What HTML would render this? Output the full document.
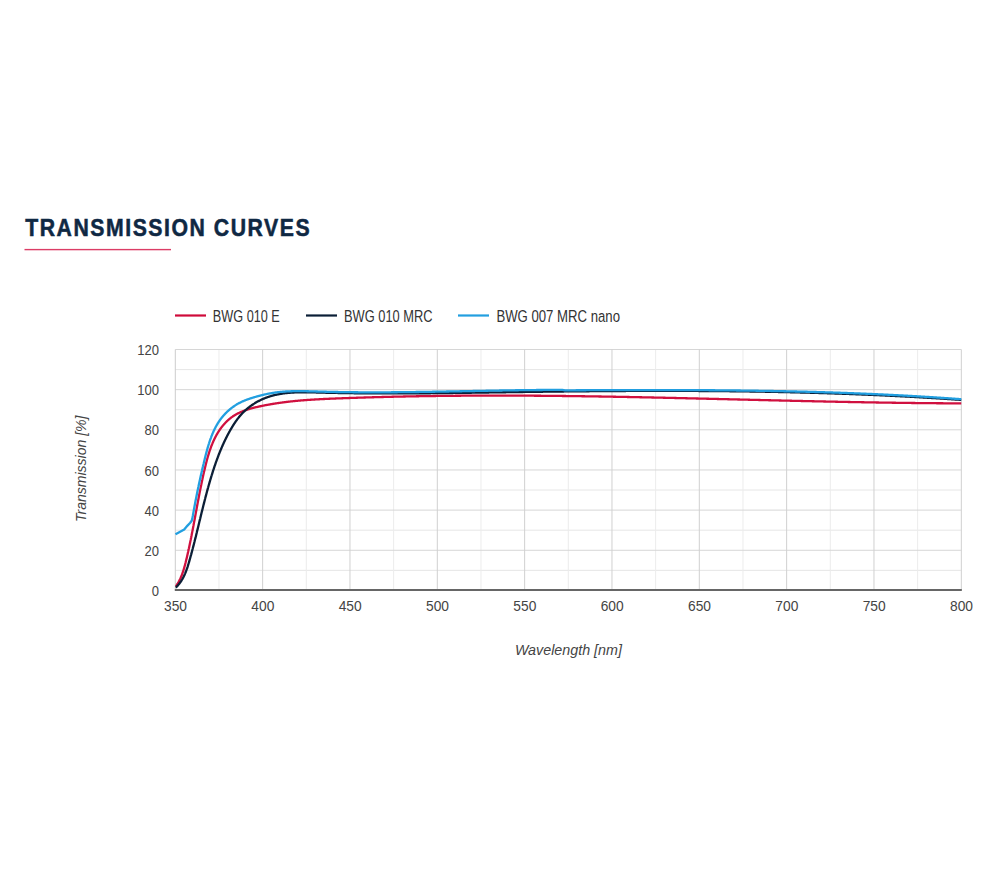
<!DOCTYPE html>
<html><head><meta charset="utf-8"><style>
html,body{margin:0;padding:0;background:#fff;width:1000px;height:875px;overflow:hidden}
svg{position:absolute;left:0;top:0}
text{font-family:"Liberation Sans",sans-serif}
</style></head><body>
<svg width="1000" height="875" viewBox="0 0 1000 875">
<text transform="translate(25.2,235.8) scale(0.87,1)" x="0" y="0" font-size="24.4" font-weight="bold" fill="#0f2843" stroke="#0f2843" stroke-width="0.55" textLength="326.9" lengthAdjust="spacing">TRANSMISSION CURVES</text>
<rect x="24.5" y="248.9" width="146.5" height="1.4" fill="#dc3d66"/>
<g font-size="16.3" fill="#333">
<line x1="175" y1="315.5" x2="206" y2="315.5" stroke="#cf0a3a" stroke-width="2.2"/>
<text x="212.8" y="322.2" textLength="67" lengthAdjust="spacingAndGlyphs">BWG 010 E</text>
<line x1="306" y1="315.5" x2="337" y2="315.5" stroke="#0b1e36" stroke-width="2.2"/>
<text x="344" y="322.2" textLength="88.5" lengthAdjust="spacingAndGlyphs">BWG 010 MRC</text>
<line x1="458" y1="315.5" x2="489" y2="315.5" stroke="#229fe0" stroke-width="2.2"/>
<text x="496.4" y="322.2" textLength="123.6" lengthAdjust="spacingAndGlyphs">BWG 007 MRC nano</text>
</g>
<line x1="175.30" y1="570.35" x2="961.32" y2="570.35" stroke="#e6e6e6" stroke-width="1"/>
<line x1="175.30" y1="530.20" x2="961.32" y2="530.20" stroke="#e6e6e6" stroke-width="1"/>
<line x1="175.30" y1="490.04" x2="961.32" y2="490.04" stroke="#e6e6e6" stroke-width="1"/>
<line x1="175.30" y1="449.89" x2="961.32" y2="449.89" stroke="#e6e6e6" stroke-width="1"/>
<line x1="175.30" y1="409.73" x2="961.32" y2="409.73" stroke="#e6e6e6" stroke-width="1"/>
<line x1="175.30" y1="369.58" x2="961.32" y2="369.58" stroke="#e6e6e6" stroke-width="1"/>
<line x1="218.97" y1="349.50" x2="218.97" y2="590.43" stroke="#ececec" stroke-width="1"/>
<line x1="306.30" y1="349.50" x2="306.30" y2="590.43" stroke="#ececec" stroke-width="1"/>
<line x1="393.64" y1="349.50" x2="393.64" y2="590.43" stroke="#ececec" stroke-width="1"/>
<line x1="480.97" y1="349.50" x2="480.97" y2="590.43" stroke="#ececec" stroke-width="1"/>
<line x1="568.31" y1="349.50" x2="568.31" y2="590.43" stroke="#ececec" stroke-width="1"/>
<line x1="655.64" y1="349.50" x2="655.64" y2="590.43" stroke="#ececec" stroke-width="1"/>
<line x1="742.98" y1="349.50" x2="742.98" y2="590.43" stroke="#ececec" stroke-width="1"/>
<line x1="830.31" y1="349.50" x2="830.31" y2="590.43" stroke="#ececec" stroke-width="1"/>
<line x1="917.65" y1="349.50" x2="917.65" y2="590.43" stroke="#ececec" stroke-width="1"/>
<line x1="175.30" y1="550.28" x2="961.32" y2="550.28" stroke="#d6d6d6" stroke-width="1"/>
<line x1="175.30" y1="510.12" x2="961.32" y2="510.12" stroke="#d6d6d6" stroke-width="1"/>
<line x1="175.30" y1="469.97" x2="961.32" y2="469.97" stroke="#d6d6d6" stroke-width="1"/>
<line x1="175.30" y1="429.81" x2="961.32" y2="429.81" stroke="#d6d6d6" stroke-width="1"/>
<line x1="175.30" y1="389.66" x2="961.32" y2="389.66" stroke="#d6d6d6" stroke-width="1"/>
<line x1="175.30" y1="349.50" x2="961.32" y2="349.50" stroke="#d6d6d6" stroke-width="1"/>
<line x1="262.63" y1="349.50" x2="262.63" y2="590.43" stroke="#d0d0d0" stroke-width="1"/>
<line x1="349.97" y1="349.50" x2="349.97" y2="590.43" stroke="#d0d0d0" stroke-width="1"/>
<line x1="437.31" y1="349.50" x2="437.31" y2="590.43" stroke="#d0d0d0" stroke-width="1"/>
<line x1="524.64" y1="349.50" x2="524.64" y2="590.43" stroke="#d0d0d0" stroke-width="1"/>
<line x1="611.97" y1="349.50" x2="611.97" y2="590.43" stroke="#d0d0d0" stroke-width="1"/>
<line x1="699.31" y1="349.50" x2="699.31" y2="590.43" stroke="#d0d0d0" stroke-width="1"/>
<line x1="786.64" y1="349.50" x2="786.64" y2="590.43" stroke="#d0d0d0" stroke-width="1"/>
<line x1="873.98" y1="349.50" x2="873.98" y2="590.43" stroke="#d0d0d0" stroke-width="1"/>
<line x1="961.32" y1="349.50" x2="961.32" y2="590.43" stroke="#d0d0d0" stroke-width="1"/>
<line x1="175.30" y1="349.50" x2="175.30" y2="590.43" stroke="#cccccc" stroke-width="1"/>
<line x1="174.80" y1="590" x2="961.82" y2="590" stroke="#666" stroke-width="2"/>
<defs><clipPath id="pc"><rect x="175" y="340" width="786.5" height="250"/></clipPath></defs>
<g fill="none" stroke-linejoin="round" stroke-linecap="butt" clip-path="url(#pc)">
<path d="M175.76,586.48L176.05,586.06L176.34,585.65L176.62,585.23L176.90,584.81L177.17,584.38L177.43,583.96L177.69,583.53L177.95,583.10L178.20,582.66L178.45,582.23L178.69,581.79L178.93,581.35L179.16,580.91L179.39,580.46L179.61,580.02L179.83,579.57L180.04,579.12L180.26,578.67L180.46,578.22L180.67,577.76L180.86,577.30L181.06,576.84L181.25,576.38L181.44,575.92L181.62,575.46L181.81,574.99L181.98,574.53L182.16,574.06L182.33,573.59L182.50,573.12L182.66,572.65L182.83,572.17L182.99,571.70L183.14,571.23L183.30,570.75L183.45,570.27L183.60,569.79L183.75,569.31L183.89,568.83L184.04,568.35L184.18,567.87L184.31,567.39L184.45,566.91L184.59,566.42L184.72,565.94L184.85,565.45L184.98,564.97L185.11,564.48L185.23,564.00L185.36,563.51L185.48,563.02L185.61,562.54L185.73,562.05L185.85,561.56L185.97,561.07L186.09,560.59L186.21,560.10L186.33,559.61L186.44,559.12L186.56,558.64L186.68,558.15L186.79,557.66L186.91,557.17L187.02,556.69L187.13,556.20L187.25,555.71L187.36,555.22L187.47,554.74L187.58,554.25L187.70,553.76L187.81,553.28L187.92,552.79L188.03,552.30L188.14,551.82L188.24,551.33L188.35,550.84L188.46,550.35L188.57,549.87L188.67,549.38L188.78,548.89L188.89,548.41L188.99,547.92L189.10,547.43L189.20,546.95L189.31,546.46L189.41,545.97L189.51,545.49L189.62,545.00L189.72,544.51L189.82,544.03L189.92,543.54L190.03,543.05L190.13,542.57L190.23,542.08L190.33,541.59L190.43,541.11L190.53,540.62L190.63,540.13L190.73,539.65L190.82,539.16L190.92,538.68L191.02,538.19L191.12,537.70L191.22,537.22L191.31,536.73L191.41,536.24L191.51,535.76L191.60,535.27L191.70,534.78L191.79,534.30L191.89,533.81L191.98,533.32L192.08,532.84L192.17,532.35L192.27,531.86L192.36,531.38L192.46,530.89L192.55,530.41L192.64,529.92L192.74,529.43L192.83,528.95L192.92,528.46L193.02,527.97L193.11,527.49L193.20,527.00L193.29,526.51L193.39,526.03L193.48,525.54L193.57,525.05L193.66,524.57L193.75,524.08L193.85,523.59L193.94,523.11L194.03,522.62L194.12,522.13L194.21,521.64L194.30,521.16L194.39,520.67L194.48,520.18L194.57,519.70L194.66,519.21L194.75,518.72L194.84,518.23L194.93,517.75L195.03,517.26L195.12,516.77L195.21,516.29L195.30,515.80L195.39,515.31L195.48,514.82L195.57,514.34L195.66,513.85L195.75,513.36L195.84,512.87L195.93,512.39L196.02,511.90L196.11,511.41L196.20,510.92L196.29,510.43L196.38,509.95L196.47,509.46L196.56,508.97L196.65,508.48L196.74,507.99L196.83,507.50L196.92,507.02L197.01,506.53L197.10,506.04L197.20,505.55L197.29,505.06L197.38,504.57L197.47,504.08L197.56,503.60L197.65,503.11L197.74,502.62L197.84,502.13L197.93,501.64L198.02,501.15L198.11,500.66L198.21,500.17L198.30,499.68L198.39,499.19L198.48,498.70L198.58,498.21L198.67,497.72L198.76,497.23L198.86,496.74L198.95,496.25L199.05,495.76L199.14,495.27L199.24,494.78L199.33,494.29L199.43,493.80L199.52,493.31L199.62,492.82L199.72,492.33L199.81,491.84L199.91,491.35L200.01,490.86L200.10,490.37L200.20,489.88L200.30,489.38L200.40,488.89L200.50,488.40L200.59,487.91L200.69,487.42L200.79,486.93L200.89,486.43L200.99,485.94L201.09,485.45L201.20,484.96L201.30,484.46L201.40,483.97L201.50,483.48L201.60,482.99L201.71,482.49L201.81,482.00L201.91,481.51L202.02,481.01L202.12,480.52L202.23,480.03L202.33,479.53L202.44,479.04L202.54,478.55L202.65,478.05L202.76,477.56L202.87,477.06L202.97,476.57L203.08,476.07L203.19,475.58L203.30,475.09L203.41,474.59L203.52,474.10L203.63,473.60L203.75,473.11L203.86,472.61L203.97,472.11L204.08,471.62L204.20,471.12L204.31,470.63L204.43,470.13L204.54,469.63L204.66,469.14L204.77,468.64L204.89,468.14L205.01,467.65L205.13,467.15L205.25,466.66L205.37,466.16L205.49,465.66L205.61,465.17L205.73,464.67L205.86,464.17L205.98,463.68L206.11,463.18L206.23,462.69L206.36,462.19L206.49,461.70L206.62,461.20L206.75,460.71L206.88,460.21L207.02,459.72L207.15,459.23L207.28,458.73L207.42,458.24L207.56,457.75L207.70,457.26L207.84,456.77L207.98,456.28L208.13,455.79L208.27,455.30L208.42,454.81L208.57,454.33L208.72,453.84L208.87,453.35L209.02,452.87L209.17,452.38L209.33,451.90L209.49,451.42L209.65,450.94L209.81,450.46L209.97,449.98L210.14,449.50L210.30,449.02L210.47,448.54L210.64,448.07L210.82,447.59L210.99,447.12L211.17,446.65L211.35,446.18L211.53,445.71L211.71,445.24L211.90,444.77L212.08,444.30L212.27,443.84L212.47,443.38L212.66,442.91L212.86,442.45L213.06,442.00L213.26,441.54L213.46,441.08L213.67,440.63L213.88,440.17L214.09,439.72L214.30,439.27L214.52,438.82L214.74,438.38L214.96,437.93L215.18,437.49L215.41,437.05L215.64,436.61L215.87,436.17L216.10,435.73L216.34,435.30L216.58,434.87L216.83,434.44L217.07,434.01L217.32,433.58L217.57,433.16L217.83,432.73L218.09,432.31L218.35,431.89L218.62,431.48L218.88,431.06L219.15,430.65L219.43,430.24L219.71,429.83L219.99,429.43L220.27,429.02L220.56,428.62L220.85,428.22L221.14,427.83L221.44,427.43L221.74,427.04L222.04,426.65L222.35,426.27L222.66,425.89L222.97,425.51L223.29,425.13L223.61,424.75L223.93,424.38L224.26,424.02L224.59,423.65L224.92,423.29L225.26,422.93L225.59,422.58L225.94,422.22L226.28,421.88L226.63,421.53L226.98,421.19L227.34,420.85L227.70,420.52L228.06,420.19L228.42,419.87L228.79,419.54L229.16,419.23L229.53,418.91L229.91,418.60L230.29,418.30L230.67,418.00L231.06,417.70L231.45,417.41L231.84,417.12L232.24,416.84L232.63,416.56L233.04,416.29L233.44,416.02L233.85,415.76L234.26,415.50L234.67,415.24L235.09,414.99L235.51,414.74L235.93,414.50L236.36,414.26L236.78,414.03L237.21,413.80L237.64,413.57L238.08,413.35L238.52,413.13L238.96,412.92L239.40,412.71L239.84,412.50L240.29,412.30L240.74,412.10L241.19,411.90L241.64,411.71L242.10,411.52L242.55,411.34L243.01,411.15L243.47,410.98L243.93,410.80L244.40,410.63L244.86,410.46L245.33,410.29L245.80,410.13L246.27,409.96L246.74,409.81L247.22,409.65L247.69,409.50L248.17,409.35L248.65,409.20L249.13,409.05L249.61,408.91L250.09,408.77L250.57,408.63L251.05,408.50L251.54,408.36L252.02,408.23L252.51,408.10L253.00,407.97L253.49,407.85L253.97,407.72L254.46,407.60L254.95,407.48L255.44,407.36L255.94,407.24L256.43,407.13L256.92,407.01L257.41,406.90L257.90,406.79L258.40,406.68L258.89,406.57L259.38,406.46L259.88,406.35L260.37,406.25L260.87,406.14L261.36,406.04L261.85,405.94L262.35,405.83L262.84,405.73L263.34,405.63L263.83,405.53L264.32,405.44L264.82,405.34L265.31,405.24L265.81,405.15L266.30,405.05L266.80,404.96L267.29,404.87L267.79,404.78L268.28,404.69L268.77,404.60L269.27,404.51L269.76,404.42L270.26,404.33L270.75,404.25L271.25,404.16L271.74,404.08L272.24,404.00L272.74,403.91L273.23,403.83L273.73,403.75L274.22,403.67L274.72,403.59L275.21,403.51L275.71,403.44L276.20,403.36L276.70,403.29L277.19,403.21L277.69,403.14L278.19,403.06L278.68,402.99L279.18,402.92L279.67,402.85L280.17,402.78L280.67,402.71L281.16,402.64L281.66,402.57L282.16,402.51L282.65,402.44L283.15,402.38L283.64,402.31L284.14,402.25L284.64,402.18L285.13,402.12L285.63,402.06L286.13,402.00L286.62,401.94L287.12,401.88L287.62,401.82L288.11,401.76L288.61,401.70L289.11,401.65L289.60,401.59L290.10,401.54L290.60,401.48L291.10,401.43L291.59,401.37L292.09,401.32L292.59,401.27L293.08,401.22L293.58,401.16L294.08,401.11L294.58,401.06L295.07,401.02L295.57,400.97L296.07,400.92L296.57,400.87L297.06,400.82L297.56,400.78L298.06,400.73L298.56,400.69L299.05,400.64L299.55,400.60L300.05,400.56L300.55,400.51L301.05,400.47L301.54,400.43L302.04,400.39L302.54,400.35L303.04,400.31L303.54,400.27L304.03,400.23L304.53,400.19L305.03,400.15L305.53,400.11L306.03,400.08L306.52,400.04L307.02,400.00L307.52,399.97L308.02,399.93L308.52,399.90L309.02,399.86L309.51,399.83L310.01,399.79L310.51,399.76L311.01,399.73L311.51,399.69L312.01,399.66L312.51,399.63L313.00,399.60L313.50,399.57L314.00,399.54L314.50,399.51L315.00,399.48L315.50,399.45L316.00,399.42L316.49,399.39L316.99,399.36L317.49,399.34L317.99,399.31L318.49,399.28L318.99,399.25L319.49,399.23L319.99,399.20L320.48,399.17L320.98,399.15L321.48,399.12L321.98,399.10L322.48,399.07L322.98,399.05L323.48,399.02L323.98,399.00L324.48,398.98L324.98,398.95L325.47,398.93L325.97,398.91L326.47,398.88L326.97,398.86L327.47,398.84L327.97,398.82L328.47,398.80L328.97,398.77L329.47,398.75L329.97,398.73L330.47,398.71L330.96,398.69L331.46,398.67L331.96,398.65L332.46,398.63L332.96,398.61L333.46,398.59L333.96,398.57L334.46,398.55L334.96,398.53L335.46,398.51L335.96,398.49L336.46,398.47L336.96,398.45L337.45,398.43L337.95,398.41L338.45,398.39L338.95,398.37L339.45,398.36L339.95,398.34L340.45,398.32L340.95,398.30L341.45,398.28L341.95,398.26L342.45,398.24L342.95,398.23L343.45,398.21L343.95,398.19L344.45,398.17L344.94,398.15L345.44,398.14L345.94,398.12L346.44,398.10L346.94,398.08L347.44,398.07L347.94,398.05L348.44,398.03L348.94,398.01L349.44,398.00L349.94,397.98L350.44,397.96L350.94,397.94L351.44,397.93L351.94,397.91L352.43,397.89L352.93,397.88L353.43,397.86L353.93,397.84L354.43,397.83L354.93,397.81L355.43,397.79L355.93,397.78L356.43,397.76L356.93,397.74L357.43,397.73L357.93,397.71L358.43,397.70L358.93,397.68L359.43,397.66L359.92,397.65L360.42,397.63L360.92,397.62L361.42,397.60L361.92,397.59L362.42,397.57L362.92,397.55L363.42,397.54L363.92,397.52L364.42,397.51L364.92,397.49L365.42,397.48L365.92,397.46L366.42,397.45L366.92,397.43L367.42,397.42L367.92,397.40L368.41,397.39L368.91,397.37L369.41,397.36L369.91,397.34L370.41,397.33L370.91,397.32L371.41,397.30L371.91,397.29L372.41,397.27L372.91,397.26L373.41,397.24L373.91,397.23L374.41,397.22L374.91,397.20L375.41,397.19L375.91,397.18L376.41,397.16L376.91,397.15L377.40,397.13L377.90,397.12L378.40,397.11L378.90,397.09L379.40,397.08L379.90,397.07L380.40,397.05L380.90,397.04L381.40,397.03L381.90,397.02L382.40,397.00L382.90,396.99L383.40,396.98L383.90,396.96L384.40,396.95L384.90,396.94L385.40,396.93L385.90,396.91L386.40,396.90L386.90,396.89L387.39,396.88L387.89,396.86L388.39,396.85L388.89,396.84L389.39,396.83L389.89,396.82L390.39,396.80L390.89,396.79L391.39,396.78L391.89,396.77L392.39,396.76L392.89,396.75L393.39,396.73L393.89,396.72L394.39,396.71L394.89,396.70L395.39,396.69L395.89,396.68L396.39,396.67L396.89,396.66L397.38,396.65L397.88,396.63L398.38,396.62L398.88,396.61L399.38,396.60L399.88,396.59L400.38,396.58L400.88,396.57L401.38,396.56L401.88,396.55L402.38,396.54L402.88,396.53L403.38,396.52L403.88,396.51L404.38,396.50L404.88,396.49L405.38,396.48L405.88,396.47L406.38,396.46L406.88,396.45L407.38,396.44L407.88,396.43L408.38,396.42L408.87,396.41L409.37,396.40L409.87,396.39L410.37,396.38L410.87,396.37L411.37,396.36L411.87,396.35L412.37,396.34L412.87,396.33L413.37,396.33L413.87,396.32L414.37,396.31L414.87,396.30L415.37,396.29L415.87,396.28L416.37,396.27L416.87,396.26L417.37,396.26L417.87,396.25L418.37,396.24L418.87,396.23L419.37,396.22L419.87,396.21L420.37,396.20L420.86,396.20L421.36,396.19L421.86,396.18L422.36,396.17L422.86,396.16L423.36,396.16L423.86,396.15L424.36,396.14L424.86,396.13L425.36,396.13L425.86,396.12L426.36,396.11L426.86,396.10L427.36,396.10L427.86,396.09L428.36,396.08L428.86,396.07L429.36,396.07L429.86,396.06L430.36,396.05L430.86,396.05L431.36,396.04L431.86,396.03L432.36,396.03L432.86,396.02L433.36,396.01L433.86,396.00L434.35,396.00L434.85,395.99L435.35,395.99L435.85,395.98L436.35,395.97L436.85,395.97L437.35,395.96L437.85,395.95L438.35,395.95L438.85,395.94L439.35,395.94L439.85,395.93L440.35,395.92L440.85,395.92L441.35,395.91L441.85,395.91L442.35,395.90L442.85,395.89L443.35,395.89L443.85,395.88L444.35,395.88L444.85,395.87L445.35,395.87L445.85,395.86L446.35,395.86L446.85,395.85L447.35,395.85L447.85,395.84L448.35,395.84L448.84,395.83L449.34,395.83L449.84,395.82L450.34,395.82L450.84,395.81L451.34,395.81L451.84,395.80L452.34,395.80L452.84,395.79L453.34,395.79L453.84,395.78L454.34,395.78L454.84,395.78L455.34,395.77L455.84,395.77L456.34,395.76L456.84,395.76L457.34,395.76L457.84,395.75L458.34,395.75L458.84,395.74L459.34,395.74L459.84,395.74L460.34,395.73L460.84,395.73L461.34,395.72L461.84,395.72L462.34,395.72L462.84,395.71L463.34,395.71L463.84,395.71L464.33,395.70L464.83,395.70L465.33,395.70L465.83,395.69L466.33,395.69L466.83,395.69L467.33,395.69L467.83,395.68L468.33,395.68L468.83,395.68L469.33,395.67L469.83,395.67L470.33,395.67L470.83,395.67L471.33,395.66L471.83,395.66L472.33,395.66L472.83,395.66L473.33,395.65L473.83,395.65L474.33,395.65L474.83,395.65L475.33,395.64L475.83,395.64L476.33,395.64L476.83,395.64L477.33,395.64L477.83,395.63L478.33,395.63L478.83,395.63L479.33,395.63L479.83,395.63L480.33,395.63L480.83,395.62L481.32,395.62L481.82,395.62L482.32,395.62L482.82,395.62L483.32,395.62L483.82,395.62L484.32,395.61L484.82,395.61L485.32,395.61L485.82,395.61L486.32,395.61L486.82,395.61L487.32,395.61L487.82,395.61L488.32,395.61L488.82,395.60L489.32,395.60L489.82,395.60L490.32,395.60L490.82,395.60L491.32,395.60L491.82,395.60L492.32,395.60L492.82,395.60L493.32,395.60L493.82,395.60L494.32,395.60L494.82,395.60L495.32,395.60L495.82,395.60L496.32,395.60L496.82,395.60L497.32,395.60L497.82,395.60L498.32,395.60L498.82,395.60L499.31,395.60L499.81,395.60L500.31,395.60L500.81,395.60L501.31,395.60L501.81,395.60L502.31,395.60L502.81,395.60L503.31,395.60L503.81,395.60L504.31,395.60L504.81,395.60L505.31,395.60L505.81,395.61L506.31,395.61L506.81,395.61L507.31,395.61L507.81,395.61L508.31,395.61L508.81,395.61L509.31,395.61L509.81,395.61L510.31,395.61L510.81,395.62L511.31,395.62L511.81,395.62L512.31,395.62L512.81,395.62L513.31,395.62L513.81,395.62L514.31,395.63L514.81,395.63L515.31,395.63L515.81,395.63L516.31,395.63L516.81,395.64L517.31,395.64L517.80,395.64L518.30,395.64L518.80,395.64L519.30,395.64L519.80,395.65L520.30,395.65L520.80,395.65L521.30,395.65L521.80,395.66L522.30,395.66L522.80,395.66L523.30,395.66L523.80,395.67L524.30,395.67L524.80,395.67L525.30,395.67L525.80,395.68L526.30,395.68L526.80,395.68L527.30,395.68L527.80,395.69L528.30,395.69L528.80,395.69L529.30,395.69L529.80,395.70L530.30,395.70L530.80,395.70L531.30,395.71L531.80,395.71L532.30,395.71L532.80,395.72L533.30,395.72L533.80,395.72L534.30,395.73L534.80,395.73L535.30,395.73L535.79,395.74L536.29,395.74L536.79,395.74L537.29,395.75L537.79,395.75L538.29,395.75L538.79,395.76L539.29,395.76L539.79,395.77L540.29,395.77L540.79,395.77L541.29,395.78L541.79,395.78L542.29,395.79L542.79,395.79L543.29,395.79L543.79,395.80L544.29,395.80L544.79,395.81L545.29,395.81L545.79,395.82L546.29,395.82L546.79,395.82L547.29,395.83L547.79,395.83L548.29,395.84L548.79,395.84L549.29,395.85L549.79,395.85L550.29,395.86L550.79,395.86L551.29,395.87L551.79,395.87L552.29,395.88L552.79,395.88L553.28,395.88L553.78,395.89L554.28,395.89L554.78,395.90L555.28,395.90L555.78,395.91L556.28,395.92L556.78,395.92L557.28,395.93L557.78,395.93L558.28,395.94L558.78,395.94L559.28,395.95L559.78,395.95L560.28,395.96L560.78,395.96L561.28,395.97L561.78,395.97L562.28,395.98L562.78,395.99L563.28,395.99L563.78,396.00L564.28,396.00L564.78,396.01L565.28,396.01L565.78,396.02L566.28,396.03L566.78,396.03L567.28,396.04L567.78,396.04L568.28,396.05L568.78,396.06L569.28,396.06L569.77,396.07L570.27,396.07L570.77,396.08L571.27,396.09L571.77,396.09L572.27,396.10L572.77,396.11L573.27,396.11L573.77,396.12L574.27,396.12L574.77,396.13L575.27,396.14L575.77,396.14L576.27,396.15L576.77,396.16L577.27,396.16L577.77,396.17L578.27,396.18L578.77,396.18L579.27,396.19L579.77,396.20L580.27,396.20L580.77,396.21L581.27,396.22L581.77,396.23L582.27,396.23L582.77,396.24L583.27,396.25L583.77,396.25L584.27,396.26L584.77,396.27L585.27,396.28L585.76,396.28L586.26,396.29L586.76,396.30L587.26,396.30L587.76,396.31L588.26,396.32L588.76,396.33L589.26,396.33L589.76,396.34L590.26,396.35L590.76,396.36L591.26,396.36L591.76,396.37L592.26,396.38L592.76,396.39L593.26,396.39L593.76,396.40L594.26,396.41L594.76,396.42L595.26,396.43L595.76,396.43L596.26,396.44L596.76,396.45L597.26,396.46L597.76,396.47L598.26,396.47L598.76,396.48L599.26,396.49L599.76,396.50L600.26,396.51L600.76,396.51L601.25,396.52L601.75,396.53L602.25,396.54L602.75,396.55L603.25,396.55L603.75,396.56L604.25,396.57L604.75,396.58L605.25,396.59L605.75,396.60L606.25,396.61L606.75,396.61L607.25,396.62L607.75,396.63L608.25,396.64L608.75,396.65L609.25,396.66L609.75,396.67L610.25,396.67L610.75,396.68L611.25,396.69L611.75,396.70L612.25,396.71L612.75,396.72L613.25,396.73L613.75,396.74L614.25,396.74L614.75,396.75L615.25,396.76L615.75,396.77L616.24,396.78L616.74,396.79L617.24,396.80L617.74,396.81L618.24,396.82L618.74,396.83L619.24,396.83L619.74,396.84L620.24,396.85L620.74,396.86L621.24,396.87L621.74,396.88L622.24,396.89L622.74,396.90L623.24,396.91L623.74,396.92L624.24,396.93L624.74,396.94L625.24,396.95L625.74,396.96L626.24,396.96L626.74,396.97L627.24,396.98L627.74,396.99L628.24,397.00L628.74,397.01L629.24,397.02L629.74,397.03L630.24,397.04L630.73,397.05L631.23,397.06L631.73,397.07L632.23,397.08L632.73,397.09L633.23,397.10L633.73,397.11L634.23,397.12L634.73,397.13L635.23,397.14L635.73,397.15L636.23,397.16L636.73,397.17L637.23,397.18L637.73,397.19L638.23,397.20L638.73,397.21L639.23,397.22L639.73,397.23L640.23,397.24L640.73,397.25L641.23,397.26L641.73,397.27L642.23,397.28L642.73,397.29L643.23,397.30L643.73,397.31L644.23,397.32L644.72,397.33L645.22,397.34L645.72,397.35L646.22,397.36L646.72,397.37L647.22,397.38L647.72,397.39L648.22,397.40L648.72,397.41L649.22,397.42L649.72,397.44L650.22,397.45L650.72,397.46L651.22,397.47L651.72,397.48L652.22,397.49L652.72,397.50L653.22,397.51L653.72,397.52L654.22,397.53L654.72,397.54L655.22,397.55L655.72,397.56L656.22,397.57L656.72,397.58L657.22,397.59L657.72,397.61L658.22,397.62L658.72,397.63L659.21,397.64L659.71,397.65L660.21,397.66L660.71,397.67L661.21,397.68L661.71,397.69L662.21,397.70L662.71,397.71L663.21,397.73L663.71,397.74L664.21,397.75L664.71,397.76L665.21,397.77L665.71,397.78L666.21,397.79L666.71,397.80L667.21,397.81L667.71,397.82L668.21,397.84L668.71,397.85L669.21,397.86L669.71,397.87L670.21,397.88L670.71,397.89L671.21,397.90L671.71,397.91L672.21,397.92L672.70,397.94L673.20,397.95L673.70,397.96L674.20,397.97L674.70,397.98L675.20,397.99L675.70,398.00L676.20,398.01L676.70,398.03L677.20,398.04L677.70,398.05L678.20,398.06L678.70,398.07L679.20,398.08L679.70,398.09L680.20,398.11L680.70,398.12L681.20,398.13L681.70,398.14L682.20,398.15L682.70,398.16L683.20,398.17L683.70,398.19L684.20,398.20L684.70,398.21L685.20,398.22L685.70,398.23L686.20,398.24L686.69,398.26L687.19,398.27L687.69,398.28L688.19,398.29L688.69,398.30L689.19,398.31L689.69,398.33L690.19,398.34L690.69,398.35L691.19,398.36L691.69,398.37L692.19,398.38L692.69,398.40L693.19,398.41L693.69,398.42L694.19,398.43L694.69,398.44L695.19,398.45L695.69,398.47L696.19,398.48L696.69,398.49L697.19,398.50L697.69,398.51L698.19,398.52L698.69,398.54L699.19,398.55L699.69,398.56L700.18,398.57L700.68,398.58L701.18,398.60L701.68,398.61L702.18,398.62L702.68,398.63L703.18,398.64L703.68,398.66L704.18,398.67L704.68,398.68L705.18,398.69L705.68,398.70L706.18,398.71L706.68,398.73L707.18,398.74L707.68,398.75L708.18,398.76L708.68,398.77L709.18,398.79L709.68,398.80L710.18,398.81L710.68,398.82L711.18,398.83L711.68,398.85L712.18,398.86L712.68,398.87L713.18,398.88L713.67,398.89L714.17,398.91L714.67,398.92L715.17,398.93L715.67,398.94L716.17,398.95L716.67,398.97L717.17,398.98L717.67,398.99L718.17,399.00L718.67,399.01L719.17,399.03L719.67,399.04L720.17,399.05L720.67,399.06L721.17,399.08L721.67,399.09L722.17,399.10L722.67,399.11L723.17,399.12L723.67,399.14L724.17,399.15L724.67,399.16L725.17,399.17L725.67,399.18L726.17,399.20L726.66,399.21L727.16,399.22L727.66,399.23L728.16,399.24L728.66,399.26L729.16,399.27L729.66,399.28L730.16,399.29L730.66,399.31L731.16,399.32L731.66,399.33L732.16,399.34L732.66,399.35L733.16,399.37L733.66,399.38L734.16,399.39L734.66,399.40L735.16,399.41L735.66,399.43L736.16,399.44L736.66,399.45L737.16,399.46L737.66,399.48L738.16,399.49L738.66,399.50L739.16,399.51L739.66,399.52L740.15,399.54L740.65,399.55L741.15,399.56L741.65,399.57L742.15,399.58L742.65,399.60L743.15,399.61L743.65,399.62L744.15,399.63L744.65,399.65L745.15,399.66L745.65,399.67L746.15,399.68L746.65,399.69L747.15,399.71L747.65,399.72L748.15,399.73L748.65,399.74L749.15,399.75L749.65,399.77L750.15,399.78L750.65,399.79L751.15,399.80L751.65,399.82L752.15,399.83L752.65,399.84L753.14,399.85L753.64,399.86L754.14,399.88L754.64,399.89L755.14,399.90L755.64,399.91L756.14,399.92L756.64,399.94L757.14,399.95L757.64,399.96L758.14,399.97L758.64,399.98L759.14,400.00L759.64,400.01L760.14,400.02L760.64,400.03L761.14,400.05L761.64,400.06L762.14,400.07L762.64,400.08L763.14,400.09L763.64,400.11L764.14,400.12L764.64,400.13L765.14,400.14L765.64,400.15L766.14,400.17L766.63,400.18L767.13,400.19L767.63,400.20L768.13,400.21L768.63,400.23L769.13,400.24L769.63,400.25L770.13,400.26L770.63,400.27L771.13,400.29L771.63,400.30L772.13,400.31L772.63,400.32L773.13,400.33L773.63,400.34L774.13,400.36L774.63,400.37L775.13,400.38L775.63,400.39L776.13,400.40L776.63,400.42L777.13,400.43L777.63,400.44L778.13,400.45L778.63,400.46L779.13,400.48L779.63,400.49L780.12,400.50L780.62,400.51L781.12,400.52L781.62,400.53L782.12,400.55L782.62,400.56L783.12,400.57L783.62,400.58L784.12,400.59L784.62,400.60L785.12,400.62L785.62,400.63L786.12,400.64L786.62,400.65L787.12,400.66L787.62,400.67L788.12,400.69L788.62,400.70L789.12,400.71L789.62,400.72L790.12,400.73L790.62,400.74L791.12,400.76L791.62,400.77L792.12,400.78L792.62,400.79L793.11,400.80L793.61,400.81L794.11,400.83L794.61,400.84L795.11,400.85L795.61,400.86L796.11,400.87L796.61,400.88L797.11,400.89L797.61,400.91L798.11,400.92L798.61,400.93L799.11,400.94L799.61,400.95L800.11,400.96L800.61,400.97L801.11,400.98L801.61,401.00L802.11,401.01L802.61,401.02L803.11,401.03L803.61,401.04L804.11,401.05L804.61,401.06L805.11,401.08L805.61,401.09L806.11,401.10L806.60,401.11L807.10,401.12L807.60,401.13L808.10,401.14L808.60,401.15L809.10,401.16L809.60,401.18L810.10,401.19L810.60,401.20L811.10,401.21L811.60,401.22L812.10,401.23L812.60,401.24L813.10,401.25L813.60,401.26L814.10,401.27L814.60,401.29L815.10,401.30L815.60,401.31L816.10,401.32L816.60,401.33L817.10,401.34L817.60,401.35L818.10,401.36L818.60,401.37L819.10,401.38L819.60,401.39L820.09,401.41L820.59,401.42L821.09,401.43L821.59,401.44L822.09,401.45L822.59,401.46L823.09,401.47L823.59,401.48L824.09,401.49L824.59,401.50L825.09,401.51L825.59,401.52L826.09,401.53L826.59,401.54L827.09,401.55L827.59,401.56L828.09,401.58L828.59,401.59L829.09,401.60L829.59,401.61L830.09,401.62L830.59,401.63L831.09,401.64L831.59,401.65L832.09,401.66L832.59,401.67L833.09,401.68L833.59,401.69L834.08,401.70L834.58,401.71L835.08,401.72L835.58,401.73L836.08,401.74L836.58,401.75L837.08,401.76L837.58,401.77L838.08,401.78L838.58,401.79L839.08,401.80L839.58,401.81L840.08,401.82L840.58,401.83L841.08,401.84L841.58,401.85L842.08,401.86L842.58,401.87L843.08,401.88L843.58,401.89L844.08,401.90L844.58,401.91L845.08,401.92L845.58,401.93L846.08,401.94L846.58,401.95L847.08,401.96L847.58,401.97L848.07,401.98L848.57,401.99L849.07,402.00L849.57,402.01L850.07,402.02L850.57,402.03L851.07,402.04L851.57,402.04L852.07,402.05L852.57,402.06L853.07,402.07L853.57,402.08L854.07,402.09L854.57,402.10L855.07,402.11L855.57,402.12L856.07,402.13L856.57,402.14L857.07,402.15L857.57,402.16L858.07,402.17L858.57,402.18L859.07,402.18L859.57,402.19L860.07,402.20L860.57,402.21L861.07,402.22L861.57,402.23L862.06,402.24L862.56,402.25L863.06,402.26L863.56,402.27L864.06,402.27L864.56,402.28L865.06,402.29L865.56,402.30L866.06,402.31L866.56,402.32L867.06,402.33L867.56,402.34L868.06,402.34L868.56,402.35L869.06,402.36L869.56,402.37L870.06,402.38L870.56,402.39L871.06,402.40L871.56,402.40L872.06,402.41L872.56,402.42L873.06,402.43L873.56,402.44L874.06,402.45L874.56,402.45L875.06,402.46L875.56,402.47L876.05,402.48L876.55,402.49L877.05,402.49L877.55,402.50L878.05,402.51L878.55,402.52L879.05,402.53L879.55,402.54L880.05,402.54L880.55,402.55L881.05,402.56L881.55,402.57L882.05,402.57L882.55,402.58L883.05,402.59L883.55,402.60L884.05,402.61L884.55,402.61L885.05,402.62L885.55,402.63L886.05,402.64L886.55,402.64L887.05,402.65L887.55,402.66L888.05,402.67L888.55,402.67L889.05,402.68L889.55,402.69L890.05,402.70L890.55,402.70L891.04,402.71L891.54,402.72L892.04,402.73L892.54,402.73L893.04,402.74L893.54,402.75L894.04,402.75L894.54,402.76L895.04,402.77L895.54,402.77L896.04,402.78L896.54,402.79L897.04,402.80L897.54,402.80L898.04,402.81L898.54,402.82L899.04,402.82L899.54,402.83L900.04,402.84L900.54,402.84L901.04,402.85L901.54,402.86L902.04,402.86L902.54,402.87L903.04,402.88L903.54,402.88L904.04,402.89L904.54,402.90L905.04,402.90L905.54,402.91L906.03,402.91L906.53,402.92L907.03,402.93L907.53,402.93L908.03,402.94L908.53,402.94L909.03,402.95L909.53,402.96L910.03,402.96L910.53,402.97L911.03,402.97L911.53,402.98L912.03,402.99L912.53,402.99L913.03,403.00L913.53,403.00L914.03,403.01L914.53,403.02L915.03,403.02L915.53,403.03L916.03,403.03L916.53,403.04L917.03,403.04L917.53,403.05L918.03,403.05L918.53,403.06L919.03,403.06L919.53,403.07L920.03,403.08L920.53,403.08L921.03,403.09L921.52,403.09L922.02,403.10L922.52,403.10L923.02,403.11L923.52,403.11L924.02,403.12L924.52,403.12L925.02,403.13L925.52,403.13L926.02,403.14L926.52,403.14L927.02,403.14L927.52,403.15L928.02,403.15L928.52,403.16L929.02,403.16L929.52,403.17L930.02,403.17L930.52,403.18L931.02,403.18L931.52,403.19L932.02,403.19L932.52,403.19L933.02,403.20L933.52,403.20L934.02,403.21L934.52,403.21L935.02,403.22L935.52,403.22L936.02,403.22L936.52,403.23L937.02,403.23L937.51,403.23L938.01,403.24L938.51,403.24L939.01,403.25L939.51,403.25L940.01,403.25L940.51,403.26L941.01,403.26L941.51,403.26L942.01,403.27L942.51,403.27L943.01,403.27L943.51,403.28L944.01,403.28L944.51,403.28L945.01,403.29L945.51,403.29L946.01,403.29L946.51,403.30L947.01,403.30L947.51,403.30L948.01,403.31L948.51,403.31L949.01,403.31L949.51,403.31L950.01,403.32L950.51,403.32L951.01,403.32L951.51,403.33L952.01,403.33L952.51,403.33L953.01,403.33L953.51,403.34L954.00,403.34L954.50,403.34L955.00,403.34L955.50,403.35L956.00,403.35L956.50,403.35L957.00,403.35L957.50,403.35L958.00,403.36L958.50,403.36L959.00,403.36L959.50,403.36L960.00,403.36L960.50,403.37L961.00,403.37L961.50,403.37" stroke="#d0103f" stroke-width="2.3"/>
<path d="M175.76,587.59L176.14,587.23L176.50,586.87L176.86,586.50L177.21,586.13L177.55,585.76L177.89,585.38L178.22,585.00L178.54,584.62L178.86,584.23L179.17,583.84L179.48,583.44L179.77,583.05L180.07,582.64L180.36,582.24L180.64,581.83L180.92,581.42L181.19,581.01L181.45,580.60L181.71,580.18L181.97,579.76L182.22,579.33L182.47,578.91L182.71,578.48L182.95,578.05L183.18,577.61L183.40,577.18L183.63,576.74L183.85,576.30L184.06,575.85L184.27,575.41L184.48,574.96L184.68,574.51L184.88,574.06L185.08,573.61L185.27,573.15L185.46,572.69L185.64,572.24L185.83,571.78L186.00,571.31L186.18,570.85L186.35,570.39L186.52,569.92L186.69,569.45L186.86,568.98L187.02,568.51L187.18,568.04L187.34,567.57L187.50,567.10L187.65,566.62L187.80,566.15L187.95,565.67L188.10,565.19L188.25,564.71L188.39,564.24L188.54,563.76L188.68,563.28L188.82,562.80L188.96,562.32L189.10,561.83L189.24,561.35L189.38,560.87L189.52,560.39L189.65,559.91L189.79,559.42L189.92,558.94L190.06,558.46L190.19,557.98L190.33,557.49L190.46,557.01L190.60,556.53L190.73,556.05L190.86,555.56L190.99,555.08L191.13,554.60L191.26,554.11L191.39,553.63L191.52,553.14L191.65,552.66L191.78,552.18L191.91,551.69L192.04,551.21L192.17,550.72L192.29,550.24L192.42,549.76L192.55,549.27L192.68,548.79L192.80,548.30L192.93,547.82L193.06,547.33L193.18,546.85L193.31,546.36L193.43,545.88L193.56,545.39L193.68,544.91L193.81,544.42L193.93,543.94L194.06,543.45L194.18,542.97L194.30,542.48L194.43,542.00L194.55,541.51L194.67,541.02L194.79,540.54L194.92,540.05L195.04,539.57L195.16,539.08L195.28,538.60L195.40,538.11L195.52,537.62L195.65,537.14L195.77,536.65L195.89,536.17L196.01,535.68L196.13,535.19L196.25,534.71L196.37,534.22L196.49,533.73L196.61,533.25L196.73,532.76L196.85,532.28L196.96,531.79L197.08,531.30L197.20,530.82L197.32,530.33L197.44,529.84L197.56,529.36L197.68,528.87L197.80,528.38L197.91,527.90L198.03,527.41L198.15,526.93L198.27,526.44L198.39,525.95L198.50,525.47L198.62,524.98L198.74,524.49L198.86,524.01L198.98,523.52L199.09,523.03L199.21,522.55L199.33,522.06L199.45,521.58L199.57,521.09L199.68,520.60L199.80,520.12L199.92,519.63L200.04,519.14L200.16,518.66L200.27,518.17L200.39,517.69L200.51,517.20L200.63,516.71L200.75,516.23L200.87,515.74L200.98,515.25L201.10,514.77L201.22,514.28L201.34,513.80L201.46,513.31L201.58,512.83L201.70,512.34L201.82,511.85L201.94,511.37L202.06,510.88L202.18,510.40L202.30,509.91L202.42,509.43L202.54,508.94L202.66,508.46L202.78,507.97L202.90,507.49L203.02,507.00L203.14,506.52L203.26,506.03L203.38,505.55L203.50,505.06L203.62,504.58L203.75,504.09L203.87,503.61L203.99,503.12L204.11,502.64L204.24,502.15L204.36,501.67L204.48,501.19L204.61,500.70L204.73,500.22L204.86,499.73L204.98,499.25L205.11,498.77L205.23,498.28L205.36,497.80L205.48,497.32L205.61,496.83L205.73,496.35L205.86,495.87L205.99,495.39L206.12,494.90L206.24,494.42L206.37,493.94L206.50,493.45L206.63,492.97L206.76,492.49L206.89,492.01L207.02,491.53L207.15,491.04L207.28,490.56L207.41,490.08L207.54,489.60L207.67,489.12L207.81,488.64L207.94,488.16L208.07,487.68L208.21,487.20L208.34,486.71L208.47,486.23L208.61,485.75L208.74,485.27L208.88,484.79L209.02,484.31L209.15,483.83L209.29,483.35L209.43,482.88L209.57,482.40L209.71,481.92L209.85,481.44L209.99,480.96L210.13,480.48L210.27,480.00L210.41,479.52L210.55,479.05L210.69,478.57L210.84,478.09L210.98,477.61L211.12,477.14L211.27,476.66L211.41,476.18L211.56,475.70L211.71,475.23L211.85,474.75L212.00,474.28L212.15,473.80L212.30,473.32L212.45,472.85L212.60,472.37L212.75,471.90L212.90,471.42L213.05,470.95L213.21,470.47L213.36,470.00L213.51,469.52L213.67,469.05L213.82,468.58L213.98,468.10L214.14,467.63L214.29,467.16L214.45,466.68L214.61,466.21L214.77,465.74L214.93,465.27L215.09,464.79L215.25,464.32L215.42,463.85L215.58,463.38L215.75,462.91L215.91,462.44L216.08,461.97L216.24,461.50L216.41,461.03L216.58,460.56L216.75,460.09L216.92,459.62L217.09,459.15L217.26,458.68L217.44,458.22L217.61,457.75L217.78,457.28L217.96,456.82L218.14,456.35L218.31,455.88L218.49,455.42L218.67,454.95L218.85,454.49L219.03,454.02L219.22,453.56L219.40,453.10L219.58,452.63L219.77,452.17L219.96,451.71L220.14,451.25L220.33,450.79L220.52,450.32L220.71,449.86L220.90,449.40L221.10,448.94L221.29,448.49L221.49,448.03L221.68,447.57L221.88,447.11L222.08,446.65L222.28,446.20L222.48,445.74L222.68,445.28L222.88,444.83L223.09,444.37L223.29,443.92L223.50,443.47L223.71,443.01L223.92,442.56L224.13,442.11L224.34,441.66L224.55,441.21L224.77,440.75L224.98,440.30L225.20,439.86L225.42,439.41L225.64,438.96L225.86,438.51L226.08,438.06L226.30,437.62L226.53,437.17L226.75,436.73L226.98,436.28L227.21,435.84L227.44,435.39L227.67,434.95L227.90,434.51L228.14,434.07L228.37,433.63L228.61,433.19L228.85,432.75L229.09,432.31L229.33,431.87L229.57,431.43L229.82,431.00L230.06,430.56L230.31,430.12L230.56,429.69L230.81,429.26L231.06,428.82L231.32,428.39L231.57,427.96L231.83,427.53L232.09,427.10L232.35,426.67L232.61,426.24L232.87,425.81L233.14,425.39L233.41,424.96L233.68,424.54L233.95,424.12L234.22,423.70L234.50,423.28L234.78,422.86L235.06,422.45L235.34,422.03L235.62,421.62L235.91,421.21L236.20,420.80L236.49,420.39L236.79,419.99L237.08,419.58L237.38,419.18L237.68,418.78L237.99,418.39L238.29,417.99L238.60,417.60L238.91,417.21L239.23,416.82L239.55,416.43L239.87,416.05L240.19,415.67L240.51,415.29L240.84,414.91L241.18,414.54L241.51,414.17L241.85,413.80L242.19,413.44L242.53,413.07L242.88,412.71L243.23,412.36L243.58,412.00L243.94,411.65L244.30,411.31L244.66,410.96L245.03,410.62L245.40,410.28L245.77,409.95L246.15,409.61L246.52,409.28L246.90,408.96L247.29,408.63L247.67,408.31L248.06,408.00L248.45,407.68L248.85,407.37L249.24,407.07L249.64,406.76L250.04,406.46L250.44,406.16L250.85,405.87L251.26,405.58L251.67,405.29L252.08,405.00L252.50,404.72L252.91,404.44L253.33,404.17L253.75,403.89L254.18,403.63L254.60,403.36L255.03,403.10L255.46,402.84L255.89,402.59L256.32,402.33L256.75,402.08L257.19,401.84L257.63,401.60L258.07,401.36L258.51,401.12L258.95,400.89L259.39,400.67L259.84,400.44L260.29,400.22L260.73,400.00L261.18,399.79L261.63,399.58L262.08,399.37L262.54,399.17L262.99,398.97L263.44,398.77L263.90,398.58L264.36,398.39L264.82,398.20L265.27,398.02L265.73,397.84L266.19,397.67L266.66,397.50L267.12,397.33L267.58,397.17L268.04,397.00L268.51,396.85L268.97,396.69L269.44,396.54L269.91,396.39L270.38,396.25L270.84,396.11L271.31,395.97L271.78,395.84L272.25,395.71L272.73,395.58L273.20,395.45L273.67,395.33L274.15,395.21L274.62,395.09L275.10,394.98L275.57,394.87L276.05,394.76L276.52,394.66L277.00,394.56L277.48,394.46L277.96,394.36L278.44,394.27L278.92,394.18L279.40,394.09L279.88,394.00L280.37,393.92L280.85,393.84L281.33,393.76L281.82,393.68L282.30,393.61L282.79,393.54L283.27,393.47L283.76,393.40L284.25,393.34L284.74,393.28L285.22,393.22L285.71,393.16L286.20,393.11L286.69,393.05L287.18,393.00L287.67,392.95L288.16,392.91L288.66,392.86L289.15,392.82L289.64,392.78L290.13,392.74L290.63,392.70L291.12,392.67L291.62,392.63L292.11,392.60L292.61,392.57L293.10,392.54L293.60,392.52L294.09,392.49L294.59,392.47L295.09,392.45L295.58,392.42L296.08,392.41L296.58,392.39L297.08,392.37L297.58,392.36L298.08,392.34L298.58,392.33L299.08,392.32L299.58,392.31L300.08,392.30L300.58,392.30L301.08,392.29L301.58,392.29L302.08,392.28L302.58,392.28L303.08,392.28L303.59,392.28L304.09,392.28L304.59,392.28L305.09,392.28L305.60,392.28L306.10,392.29L306.60,392.29L307.11,392.30L307.61,392.30L308.12,392.31L308.62,392.32L309.12,392.33L309.63,392.34L310.13,392.34L310.64,392.35L311.14,392.36L311.65,392.38L312.15,392.39L312.66,392.40L313.16,392.41L313.67,392.42L314.17,392.43L314.68,392.45L315.18,392.46L315.69,392.47L316.19,392.49L316.70,392.50L317.20,392.51L317.71,392.53L318.21,392.54L318.72,392.55L319.22,392.57L319.73,392.58L320.23,392.59L320.74,392.61L321.24,392.62L321.75,392.63L322.25,392.64L322.76,392.66L323.26,392.67L323.77,392.68L324.27,392.69L324.78,392.71L325.28,392.72L325.79,392.73L326.29,392.74L326.80,392.75L327.30,392.77L327.80,392.78L328.31,392.79L328.81,392.80L329.32,392.81L329.82,392.82L330.33,392.83L330.83,392.84L331.34,392.85L331.84,392.87L332.34,392.88L332.85,392.89L333.35,392.90L333.86,392.91L334.36,392.92L334.86,392.93L335.37,392.94L335.87,392.95L336.38,392.96L336.88,392.96L337.38,392.97L337.89,392.98L338.39,392.99L338.89,393.00L339.40,393.01L339.90,393.02L340.41,393.03L340.91,393.04L341.41,393.05L341.92,393.05L342.42,393.06L342.92,393.07L343.43,393.08L343.93,393.09L344.43,393.09L344.94,393.10L345.44,393.11L345.94,393.12L346.44,393.13L346.95,393.13L347.45,393.14L347.95,393.15L348.46,393.15L348.96,393.16L349.46,393.17L349.97,393.17L350.47,393.18L350.97,393.19L351.47,393.19L351.98,393.20L352.48,393.21L352.98,393.21L353.48,393.22L353.99,393.23L354.49,393.23L354.99,393.24L355.50,393.24L356.00,393.25L356.50,393.25L357.00,393.26L357.50,393.27L358.01,393.27L358.51,393.28L359.01,393.28L359.51,393.29L360.02,393.29L360.52,393.30L361.02,393.30L361.52,393.31L362.02,393.31L362.53,393.31L363.03,393.32L363.53,393.32L364.03,393.33L364.53,393.33L365.04,393.33L365.54,393.34L366.04,393.34L366.54,393.35L367.04,393.35L367.55,393.35L368.05,393.36L368.55,393.36L369.05,393.36L369.55,393.37L370.05,393.37L370.56,393.37L371.06,393.38L371.56,393.38L372.06,393.38L372.56,393.38L373.06,393.39L373.56,393.39L374.07,393.39L374.57,393.39L375.07,393.40L375.57,393.40L376.07,393.40L376.57,393.40L377.07,393.41L377.57,393.41L378.08,393.41L378.58,393.41L379.08,393.41L379.58,393.41L380.08,393.42L380.58,393.42L381.08,393.42L381.58,393.42L382.08,393.42L382.59,393.42L383.09,393.42L383.59,393.42L384.09,393.42L384.59,393.43L385.09,393.43L385.59,393.43L386.09,393.43L386.59,393.43L387.09,393.43L387.59,393.43L388.09,393.43L388.59,393.43L389.10,393.43L389.60,393.43L390.10,393.43L390.60,393.43L391.10,393.43L391.60,393.43L392.10,393.43L392.60,393.43L393.10,393.43L393.60,393.43L394.10,393.43L394.60,393.43L395.10,393.43L395.60,393.43L396.10,393.42L396.60,393.42L397.10,393.42L397.60,393.42L398.10,393.42L398.60,393.42L399.10,393.42L399.60,393.42L400.10,393.42L400.60,393.41L401.10,393.41L401.60,393.41L402.10,393.41L402.60,393.41L403.10,393.41L403.60,393.40L404.10,393.40L404.60,393.40L405.10,393.40L405.60,393.40L406.10,393.39L406.60,393.39L407.10,393.39L407.60,393.39L408.10,393.39L408.60,393.38L409.10,393.38L409.60,393.38L410.10,393.38L410.60,393.37L411.10,393.37L411.60,393.37L412.10,393.36L412.60,393.36L413.10,393.36L413.60,393.36L414.10,393.35L414.60,393.35L415.10,393.35L415.60,393.34L416.10,393.34L416.60,393.34L417.09,393.33L417.59,393.33L418.09,393.33L418.59,393.32L419.09,393.32L419.59,393.32L420.09,393.31L420.59,393.31L421.09,393.31L421.59,393.30L422.09,393.30L422.59,393.29L423.09,393.29L423.59,393.29L424.09,393.28L424.58,393.28L425.08,393.27L425.58,393.27L426.08,393.27L426.58,393.26L427.08,393.26L427.58,393.25L428.08,393.25L428.58,393.24L429.08,393.24L429.58,393.23L430.08,393.23L430.57,393.23L431.07,393.22L431.57,393.22L432.07,393.21L432.57,393.21L433.07,393.20L433.57,393.20L434.07,393.19L434.57,393.19L435.07,393.18L435.56,393.18L436.06,393.17L436.56,393.17L437.06,393.16L437.56,393.16L438.06,393.15L438.56,393.15L439.06,393.14L439.56,393.13L440.05,393.13L440.55,393.12L441.05,393.12L441.55,393.11L442.05,393.11L442.55,393.10L443.05,393.10L443.55,393.09L444.05,393.08L444.54,393.08L445.04,393.07L445.54,393.07L446.04,393.06L446.54,393.06L447.04,393.05L447.54,393.04L448.03,393.04L448.53,393.03L449.03,393.03L449.53,393.02L450.03,393.01L450.53,393.01L451.03,393.00L451.53,393.00L452.02,392.99L452.52,392.98L453.02,392.98L453.52,392.97L454.02,392.96L454.52,392.96L455.02,392.95L455.51,392.95L456.01,392.94L456.51,392.93L457.01,392.93L457.51,392.92L458.01,392.91L458.51,392.91L459.00,392.90L459.50,392.89L460.00,392.89L460.50,392.88L461.00,392.87L461.50,392.87L462.00,392.86L462.49,392.85L462.99,392.85L463.49,392.84L463.99,392.83L464.49,392.83L464.99,392.82L465.49,392.81L465.98,392.81L466.48,392.80L466.98,392.79L467.48,392.79L467.98,392.78L468.48,392.77L468.97,392.77L469.47,392.76L469.97,392.75L470.47,392.74L470.97,392.74L471.47,392.73L471.97,392.72L472.46,392.72L472.96,392.71L473.46,392.70L473.96,392.69L474.46,392.69L474.96,392.68L475.45,392.67L475.95,392.67L476.45,392.66L476.95,392.65L477.45,392.64L477.95,392.64L478.44,392.63L478.94,392.62L479.44,392.62L479.94,392.61L480.44,392.60L480.94,392.59L481.44,392.59L481.93,392.58L482.43,392.57L482.93,392.57L483.43,392.56L483.93,392.55L484.43,392.54L484.92,392.54L485.42,392.53L485.92,392.52L486.42,392.51L486.92,392.51L487.42,392.50L487.92,392.49L488.41,392.48L488.91,392.48L489.41,392.47L489.91,392.46L490.41,392.46L490.91,392.45L491.40,392.44L491.90,392.43L492.40,392.43L492.90,392.42L493.40,392.41L493.90,392.40L494.40,392.40L494.89,392.39L495.39,392.38L495.89,392.37L496.39,392.37L496.89,392.36L497.39,392.35L497.88,392.34L498.38,392.34L498.88,392.33L499.38,392.32L499.88,392.32L500.38,392.31L500.88,392.30L501.37,392.29L501.87,392.29L502.37,392.28L502.87,392.27L503.37,392.26L503.87,392.26L504.37,392.25L504.86,392.24L505.36,392.23L505.86,392.23L506.36,392.22L506.86,392.21L507.36,392.21L507.86,392.20L508.35,392.19L508.85,392.18L509.35,392.18L509.85,392.17L510.35,392.16L510.85,392.16L511.35,392.15L511.85,392.14L512.34,392.13L512.84,392.13L513.34,392.12L513.84,392.11L514.34,392.11L514.84,392.10L515.34,392.09L515.84,392.08L516.33,392.08L516.83,392.07L517.33,392.06L517.83,392.06L518.33,392.05L518.83,392.04L519.33,392.04L519.83,392.03L520.32,392.02L520.82,392.01L521.32,392.01L521.82,392.00L522.32,391.99L522.82,391.99L523.32,391.98L523.82,391.97L524.32,391.97L524.81,391.96L525.31,391.95L525.81,391.95L526.31,391.94L526.81,391.93L527.31,391.93L527.81,391.92L528.31,391.91L528.81,391.91L529.31,391.90L529.80,391.89L530.30,391.89L530.80,391.88L531.30,391.87L531.80,391.87L532.30,391.86L532.80,391.85L533.30,391.85L533.80,391.84L534.30,391.83L534.79,391.83L535.29,391.82L535.79,391.81L536.29,391.81L536.79,391.80L537.29,391.79L537.79,391.79L538.29,391.78L538.79,391.78L539.29,391.77L539.79,391.76L540.28,391.76L540.78,391.75L541.28,391.74L541.78,391.74L542.28,391.73L542.78,391.73L543.28,391.72L543.78,391.71L544.28,391.71L544.78,391.70L545.28,391.69L545.78,391.69L546.27,391.68L546.77,391.68L547.27,391.67L547.77,391.66L548.27,391.66L548.77,391.65L549.27,391.65L549.77,391.64L550.27,391.63L550.77,391.63L551.27,391.62L551.77,391.62L552.27,391.61L552.76,391.60L553.26,391.60L553.76,391.59L554.26,391.59L554.76,391.58L555.26,391.57L555.76,391.57L556.26,391.56L556.76,391.56L557.26,391.55L557.76,391.55L558.26,391.54L558.76,391.53L559.26,391.53L559.76,391.52L560.25,391.52L560.75,391.51L561.25,391.51L561.75,391.50L562.25,391.49L562.75,391.49L563.25,391.48L563.75,391.48L564.25,391.47L564.75,391.47L565.25,391.46L565.75,391.46L566.25,391.45L566.75,391.45L567.25,391.44L567.75,391.44L568.25,391.43L568.75,391.42L569.24,391.42L569.74,391.41L570.24,391.41L570.74,391.40L571.24,391.40L571.74,391.39L572.24,391.39L572.74,391.38L573.24,391.38L573.74,391.37L574.24,391.37L574.74,391.36L575.24,391.36L575.74,391.35L576.24,391.35L576.74,391.34L577.24,391.34L577.74,391.33L578.24,391.33L578.74,391.32L579.24,391.32L579.74,391.31L580.24,391.31L580.73,391.30L581.23,391.30L581.73,391.29L582.23,391.29L582.73,391.29L583.23,391.28L583.73,391.28L584.23,391.27L584.73,391.27L585.23,391.26L585.73,391.26L586.23,391.25L586.73,391.25L587.23,391.24L587.73,391.24L588.23,391.24L588.73,391.23L589.23,391.23L589.73,391.22L590.23,391.22L590.73,391.21L591.23,391.21L591.73,391.20L592.23,391.20L592.73,391.20L593.23,391.19L593.73,391.19L594.23,391.18L594.73,391.18L595.23,391.18L595.73,391.17L596.23,391.17L596.73,391.16L597.22,391.16L597.72,391.16L598.22,391.15L598.72,391.15L599.22,391.14L599.72,391.14L600.22,391.14L600.72,391.13L601.22,391.13L601.72,391.12L602.22,391.12L602.72,391.12L603.22,391.11L603.72,391.11L604.22,391.11L604.72,391.10L605.22,391.10L605.72,391.10L606.22,391.09L606.72,391.09L607.22,391.09L607.72,391.08L608.22,391.08L608.72,391.07L609.22,391.07L609.72,391.07L610.22,391.06L610.72,391.06L611.22,391.06L611.72,391.06L612.22,391.05L612.72,391.05L613.22,391.05L613.72,391.04L614.22,391.04L614.72,391.04L615.22,391.03L615.72,391.03L616.22,391.03L616.72,391.02L617.22,391.02L617.72,391.02L618.22,391.02L618.72,391.01L619.22,391.01L619.72,391.01L620.22,391.00L620.72,391.00L621.22,391.00L621.72,391.00L622.22,390.99L622.72,390.99L623.22,390.99L623.72,390.99L624.22,390.98L624.72,390.98L625.22,390.98L625.72,390.98L626.22,390.97L626.72,390.97L627.22,390.97L627.72,390.97L628.22,390.96L628.72,390.96L629.22,390.96L629.72,390.96L630.22,390.96L630.72,390.95L631.22,390.95L631.72,390.95L632.22,390.95L632.72,390.94L633.22,390.94L633.72,390.94L634.22,390.94L634.72,390.94L635.22,390.94L635.72,390.93L636.22,390.93L636.72,390.93L637.22,390.93L637.72,390.93L638.22,390.92L638.72,390.92L639.22,390.92L639.72,390.92L640.22,390.92L640.72,390.92L641.22,390.92L641.72,390.91L642.22,390.91L642.72,390.91L643.22,390.91L643.72,390.91L644.22,390.91L644.72,390.91L645.22,390.90L645.72,390.90L646.22,390.90L646.72,390.90L647.22,390.90L647.72,390.90L648.22,390.90L648.72,390.90L649.22,390.90L649.72,390.90L650.22,390.89L650.72,390.89L651.22,390.89L651.72,390.89L652.22,390.89L652.72,390.89L653.22,390.89L653.72,390.89L654.22,390.89L654.72,390.89L655.22,390.89L655.72,390.89L656.22,390.89L656.72,390.89L657.23,390.89L657.73,390.88L658.23,390.88L658.73,390.88L659.23,390.88L659.73,390.88L660.23,390.88L660.73,390.88L661.23,390.88L661.73,390.88L662.23,390.88L662.73,390.88L663.23,390.88L663.73,390.88L664.23,390.88L664.73,390.88L665.23,390.88L665.73,390.88L666.23,390.88L666.73,390.88L667.23,390.88L667.73,390.88L668.23,390.88L668.73,390.88L669.23,390.89L669.73,390.89L670.23,390.89L670.73,390.89L671.23,390.89L671.73,390.89L672.23,390.89L672.73,390.89L673.23,390.89L673.73,390.89L674.23,390.89L674.73,390.89L675.23,390.89L675.73,390.89L676.23,390.90L676.73,390.90L677.23,390.90L677.73,390.90L678.23,390.90L678.73,390.90L679.23,390.90L679.73,390.90L680.23,390.90L680.74,390.91L681.24,390.91L681.74,390.91L682.24,390.91L682.74,390.91L683.24,390.91L683.74,390.91L684.24,390.92L684.74,390.92L685.24,390.92L685.74,390.92L686.24,390.92L686.74,390.92L687.24,390.93L687.74,390.93L688.24,390.93L688.74,390.93L689.24,390.93L689.74,390.93L690.24,390.94L690.74,390.94L691.24,390.94L691.74,390.94L692.24,390.95L692.74,390.95L693.24,390.95L693.74,390.95L694.24,390.95L694.74,390.96L695.24,390.96L695.74,390.96L696.24,390.96L696.74,390.97L697.24,390.97L697.74,390.97L698.24,390.97L698.74,390.98L699.24,390.98L699.75,390.98L700.25,390.99L700.75,390.99L701.25,390.99L701.75,390.99L702.25,391.00L702.75,391.00L703.25,391.00L703.75,391.01L704.25,391.01L704.75,391.01L705.25,391.02L705.75,391.02L706.25,391.02L706.75,391.03L707.25,391.03L707.75,391.03L708.25,391.04L708.75,391.04L709.25,391.04L709.75,391.05L710.25,391.05L710.75,391.05L711.25,391.06L711.75,391.06L712.25,391.07L712.75,391.07L713.25,391.07L713.75,391.08L714.25,391.08L714.75,391.08L715.25,391.09L715.75,391.09L716.25,391.10L716.75,391.10L717.25,391.11L717.75,391.11L718.26,391.11L718.76,391.12L719.26,391.12L719.76,391.13L720.26,391.13L720.76,391.14L721.26,391.14L721.76,391.15L722.26,391.15L722.76,391.16L723.26,391.16L723.76,391.16L724.26,391.17L724.76,391.17L725.26,391.18L725.76,391.18L726.26,391.19L726.76,391.19L727.26,391.20L727.76,391.21L728.26,391.21L728.76,391.22L729.26,391.22L729.76,391.23L730.26,391.23L730.76,391.24L731.26,391.24L731.76,391.25L732.26,391.25L732.76,391.26L733.26,391.27L733.76,391.27L734.26,391.28L734.76,391.28L735.26,391.29L735.76,391.29L736.26,391.30L736.76,391.31L737.27,391.31L737.77,391.32L738.27,391.32L738.77,391.33L739.27,391.34L739.77,391.34L740.27,391.35L740.77,391.36L741.27,391.36L741.77,391.37L742.27,391.38L742.77,391.38L743.27,391.39L743.77,391.40L744.27,391.40L744.77,391.41L745.27,391.42L745.77,391.42L746.27,391.43L746.77,391.44L747.27,391.44L747.77,391.45L748.27,391.46L748.77,391.46L749.27,391.47L749.77,391.48L750.27,391.49L750.77,391.49L751.27,391.50L751.77,391.51L752.27,391.52L752.77,391.52L753.27,391.53L753.77,391.54L754.27,391.55L754.77,391.55L755.27,391.56L755.77,391.57L756.27,391.58L756.77,391.59L757.27,391.59L757.77,391.60L758.27,391.61L758.77,391.62L759.27,391.63L759.77,391.63L760.27,391.64L760.77,391.65L761.27,391.66L761.77,391.67L762.28,391.68L762.78,391.68L763.28,391.69L763.78,391.70L764.28,391.71L764.78,391.72L765.28,391.73L765.78,391.74L766.28,391.75L766.78,391.76L767.28,391.76L767.78,391.77L768.28,391.78L768.78,391.79L769.28,391.80L769.78,391.81L770.28,391.82L770.78,391.83L771.28,391.84L771.78,391.85L772.28,391.86L772.78,391.87L773.28,391.88L773.78,391.89L774.28,391.90L774.78,391.91L775.28,391.92L775.78,391.93L776.28,391.93L776.78,391.94L777.28,391.95L777.78,391.97L778.28,391.98L778.78,391.99L779.28,392.00L779.78,392.01L780.28,392.02L780.78,392.03L781.28,392.04L781.78,392.05L782.28,392.06L782.78,392.07L783.28,392.08L783.78,392.09L784.28,392.10L784.78,392.11L785.28,392.12L785.78,392.13L786.28,392.14L786.78,392.16L787.28,392.17L787.78,392.18L788.28,392.19L788.78,392.20L789.28,392.21L789.78,392.22L790.28,392.23L790.78,392.25L791.28,392.26L791.78,392.27L792.28,392.28L792.78,392.29L793.28,392.30L793.78,392.32L794.28,392.33L794.78,392.34L795.28,392.35L795.78,392.36L796.28,392.38L796.78,392.39L797.28,392.40L797.78,392.41L798.28,392.43L798.78,392.44L799.28,392.45L799.78,392.46L800.28,392.48L800.78,392.49L801.28,392.50L801.78,392.51L802.28,392.53L802.78,392.54L803.28,392.55L803.78,392.57L804.28,392.58L804.78,392.59L805.28,392.60L805.78,392.62L806.28,392.63L806.78,392.64L807.28,392.66L807.78,392.67L808.28,392.68L808.78,392.70L809.28,392.71L809.78,392.72L810.28,392.74L810.78,392.75L811.28,392.77L811.78,392.78L812.28,392.79L812.78,392.81L813.28,392.82L813.78,392.84L814.28,392.85L814.78,392.86L815.27,392.88L815.77,392.89L816.27,392.91L816.77,392.92L817.27,392.94L817.77,392.95L818.27,392.97L818.77,392.98L819.27,393.00L819.77,393.01L820.27,393.03L820.77,393.04L821.27,393.06L821.77,393.07L822.27,393.09L822.77,393.10L823.27,393.12L823.77,393.13L824.27,393.15L824.77,393.16L825.27,393.18L825.77,393.19L826.27,393.21L826.77,393.22L827.27,393.24L827.77,393.26L828.27,393.27L828.77,393.29L829.27,393.30L829.77,393.32L830.27,393.34L830.77,393.35L831.27,393.37L831.77,393.38L832.27,393.40L832.77,393.42L833.26,393.43L833.76,393.45L834.26,393.47L834.76,393.48L835.26,393.50L835.76,393.52L836.26,393.53L836.76,393.55L837.26,393.57L837.76,393.58L838.26,393.60L838.76,393.62L839.26,393.64L839.76,393.65L840.26,393.67L840.76,393.69L841.26,393.70L841.76,393.72L842.26,393.74L842.76,393.76L843.26,393.78L843.76,393.79L844.26,393.81L844.75,393.83L845.25,393.85L845.75,393.86L846.25,393.88L846.75,393.90L847.25,393.92L847.75,393.94L848.25,393.96L848.75,393.97L849.25,393.99L849.75,394.01L850.25,394.03L850.75,394.05L851.25,394.07L851.75,394.09L852.25,394.10L852.75,394.12L853.25,394.14L853.75,394.16L854.24,394.18L854.74,394.20L855.24,394.22L855.74,394.24L856.24,394.26L856.74,394.28L857.24,394.30L857.74,394.32L858.24,394.34L858.74,394.36L859.24,394.38L859.74,394.40L860.24,394.42L860.74,394.44L861.24,394.46L861.73,394.48L862.23,394.50L862.73,394.52L863.23,394.54L863.73,394.56L864.23,394.58L864.73,394.60L865.23,394.62L865.73,394.64L866.23,394.66L866.73,394.68L867.23,394.70L867.73,394.72L868.23,394.74L868.72,394.76L869.22,394.79L869.72,394.81L870.22,394.83L870.72,394.85L871.22,394.87L871.72,394.89L872.22,394.91L872.72,394.93L873.22,394.96L873.72,394.98L874.22,395.00L874.71,395.02L875.21,395.04L875.71,395.07L876.21,395.09L876.71,395.11L877.21,395.13L877.71,395.15L878.21,395.18L878.71,395.20L879.21,395.22L879.71,395.24L880.20,395.27L880.70,395.29L881.20,395.31L881.70,395.33L882.20,395.36L882.70,395.38L883.20,395.40L883.70,395.43L884.20,395.45L884.70,395.47L885.19,395.50L885.69,395.52L886.19,395.54L886.69,395.57L887.19,395.59L887.69,395.61L888.19,395.64L888.69,395.66L889.19,395.68L889.69,395.71L890.18,395.73L890.68,395.76L891.18,395.78L891.68,395.81L892.18,395.83L892.68,395.85L893.18,395.88L893.68,395.90L894.18,395.93L894.67,395.95L895.17,395.98L895.67,396.00L896.17,396.03L896.67,396.05L897.17,396.08L897.67,396.10L898.17,396.13L898.66,396.15L899.16,396.18L899.66,396.20L900.16,396.23L900.66,396.25L901.16,396.28L901.66,396.30L902.16,396.33L902.65,396.36L903.15,396.38L903.65,396.41L904.15,396.43L904.65,396.46L905.15,396.49L905.65,396.51L906.15,396.54L906.64,396.56L907.14,396.59L907.64,396.62L908.14,396.64L908.64,396.67L909.14,396.70L909.64,396.72L910.13,396.75L910.63,396.78L911.13,396.80L911.63,396.83L912.13,396.86L912.63,396.89L913.13,396.91L913.62,396.94L914.12,396.97L914.62,397.00L915.12,397.02L915.62,397.05L916.12,397.08L916.62,397.11L917.11,397.13L917.61,397.16L918.11,397.19L918.61,397.22L919.11,397.25L919.61,397.28L920.10,397.30L920.60,397.33L921.10,397.36L921.60,397.39L922.10,397.42L922.60,397.45L923.09,397.48L923.59,397.50L924.09,397.53L924.59,397.56L925.09,397.59L925.59,397.62L926.09,397.65L926.58,397.68L927.08,397.71L927.58,397.74L928.08,397.77L928.58,397.80L929.07,397.83L929.57,397.86L930.07,397.89L930.57,397.92L931.07,397.95L931.57,397.98L932.06,398.01L932.56,398.04L933.06,398.07L933.56,398.10L934.06,398.13L934.56,398.16L935.05,398.19L935.55,398.22L936.05,398.25L936.55,398.28L937.05,398.31L937.54,398.34L938.04,398.37L938.54,398.41L939.04,398.44L939.54,398.47L940.03,398.50L940.53,398.53L941.03,398.56L941.53,398.59L942.03,398.63L942.52,398.66L943.02,398.69L943.52,398.72L944.02,398.75L944.52,398.79L945.01,398.82L945.51,398.85L946.01,398.88L946.51,398.92L947.01,398.95L947.50,398.98L948.00,399.01L948.50,399.05L949.00,399.08L949.50,399.11L949.99,399.14L950.49,399.18L950.99,399.21L951.49,399.24L951.99,399.28L952.48,399.31L952.98,399.34L953.48,399.38L953.98,399.41L954.47,399.45L954.97,399.48L955.47,399.51L955.97,399.55L956.47,399.58L956.96,399.62L957.46,399.65L957.96,399.68L958.46,399.72L958.95,399.75L959.45,399.79L959.95,399.82L960.45,399.86L960.94,399.89L961.44,399.93" stroke="#0b1e36" stroke-width="2.3"/>
<path d="M175.50,534.30L184.23,529.50L187.50,525.60L190.00,523.00L191.69,520.80L192.32,518.68L192.41,518.17L192.50,517.67L192.58,517.17L192.67,516.66L192.76,516.16L192.85,515.66L192.94,515.16L193.02,514.65L193.11,514.15L193.20,513.65L193.29,513.15L193.38,512.66L193.47,512.16L193.56,511.66L193.65,511.16L193.74,510.66L193.83,510.17L193.92,509.67L194.01,509.18L194.10,508.68L194.19,508.18L194.28,507.69L194.37,507.20L194.46,506.70L194.55,506.21L194.64,505.72L194.74,505.22L194.83,504.73L194.92,504.24L195.01,503.75L195.11,503.26L195.20,502.77L195.29,502.28L195.39,501.79L195.48,501.30L195.57,500.81L195.67,500.32L195.76,499.83L195.86,499.34L195.95,498.85L196.05,498.36L196.14,497.87L196.24,497.39L196.34,496.90L196.43,496.41L196.53,495.93L196.63,495.44L196.72,494.95L196.82,494.47L196.92,493.98L197.02,493.49L197.11,493.01L197.21,492.52L197.31,492.04L197.41,491.55L197.51,491.07L197.61,490.58L197.71,490.10L197.81,489.61L197.91,489.13L198.01,488.65L198.11,488.16L198.21,487.68L198.31,487.19L198.42,486.71L198.52,486.22L198.62,485.74L198.72,485.26L198.83,484.77L198.93,484.29L199.03,483.81L199.14,483.32L199.24,482.84L199.34,482.36L199.45,481.87L199.55,481.39L199.66,480.90L199.76,480.42L199.87,479.94L199.98,479.45L200.08,478.97L200.19,478.49L200.30,478.00L200.40,477.52L200.51,477.04L200.62,476.55L200.73,476.07L200.84,475.58L200.95,475.10L201.06,474.61L201.17,474.13L201.28,473.65L201.39,473.16L201.50,472.68L201.61,472.19L201.72,471.71L201.83,471.22L201.94,470.73L202.06,470.25L202.17,469.76L202.28,469.28L202.39,468.79L202.51,468.30L202.62,467.82L202.74,467.33L202.85,466.84L202.97,466.36L203.08,465.87L203.20,465.38L203.31,464.89L203.43,464.40L203.55,463.91L203.67,463.43L203.78,462.94L203.90,462.45L204.02,461.96L204.14,461.47L204.26,460.98L204.38,460.49L204.50,459.99L204.62,459.50L204.74,459.01L204.86,458.52L204.98,458.03L205.10,457.53L205.23,457.04L205.35,456.55L205.47,456.05L205.60,455.56L205.72,455.07L205.85,454.58L205.98,454.08L206.10,453.59L206.23,453.10L206.36,452.60L206.49,452.11L206.62,451.62L206.76,451.13L206.89,450.63L207.02,450.14L207.16,449.65L207.30,449.16L207.43,448.67L207.57,448.18L207.71,447.69L207.85,447.20L208.00,446.71L208.14,446.22L208.29,445.73L208.43,445.25L208.58,444.76L208.73,444.28L208.88,443.79L209.04,443.31L209.19,442.82L209.35,442.34L209.51,441.86L209.67,441.38L209.83,440.90L209.99,440.42L210.16,439.94L210.32,439.46L210.49,438.99L210.66,438.51L210.84,438.04L211.01,437.56L211.19,437.09L211.37,436.62L211.55,436.15L211.73,435.68L211.92,435.22L212.10,434.75L212.29,434.29L212.49,433.82L212.68,433.36L212.88,432.90L213.08,432.44L213.28,431.99L213.48,431.53L213.69,431.08L213.90,430.63L214.11,430.18L214.32,429.73L214.54,429.28L214.76,428.83L214.98,428.39L215.21,427.95L215.44,427.51L215.67,427.07L215.90,426.64L216.14,426.20L216.38,425.77L216.62,425.34L216.87,424.91L217.11,424.48L217.37,424.06L217.62,423.64L217.88,423.22L218.14,422.80L218.40,422.39L218.67,421.97L218.94,421.56L219.22,421.15L219.49,420.75L219.77,420.35L220.06,419.94L220.35,419.55L220.64,419.15L220.93,418.76L221.23,418.36L221.53,417.98L221.84,417.59L222.15,417.21L222.46,416.83L222.77,416.45L223.09,416.07L223.41,415.70L223.74,415.33L224.06,414.96L224.39,414.60L224.73,414.24L225.06,413.88L225.41,413.52L225.75,413.17L226.10,412.82L226.44,412.47L226.80,412.13L227.15,411.79L227.51,411.45L227.87,411.12L228.24,410.79L228.60,410.46L228.97,410.13L229.35,409.81L229.72,409.49L230.10,409.18L230.48,408.87L230.87,408.56L231.26,408.25L231.65,407.95L232.04,407.65L232.43,407.36L232.83,407.06L233.23,406.77L233.64,406.49L234.04,406.21L234.45,405.93L234.86,405.66L235.28,405.39L235.69,405.12L236.11,404.86L236.53,404.60L236.96,404.34L237.38,404.09L237.81,403.84L238.25,403.60L238.68,403.35L239.11,403.12L239.55,402.88L239.99,402.66L240.44,402.43L240.88,402.21L241.33,401.99L241.78,401.78L242.23,401.57L242.69,401.36L243.14,401.16L243.60,400.96L244.06,400.77L244.52,400.58L244.99,400.39L245.45,400.20L245.92,400.02L246.39,399.84L246.86,399.66L247.33,399.49L247.80,399.32L248.27,399.15L248.75,398.98L249.23,398.82L249.70,398.66L250.18,398.50L250.66,398.34L251.14,398.19L251.62,398.04L252.11,397.89L252.59,397.74L253.07,397.59L253.56,397.44L254.04,397.30L254.53,397.15L255.01,397.01L255.50,396.87L255.98,396.73L256.47,396.59L256.96,396.46L257.45,396.32L257.93,396.19L258.42,396.05L258.91,395.92L259.40,395.79L259.89,395.66L260.38,395.54L260.87,395.41L261.36,395.29L261.85,395.17L262.34,395.05L262.83,394.93L263.32,394.81L263.81,394.69L264.30,394.58L264.79,394.47L265.28,394.36L265.77,394.25L266.27,394.14L266.76,394.04L267.25,393.93L267.74,393.83L268.24,393.73L268.73,393.64L269.22,393.54L269.72,393.45L270.21,393.36L270.70,393.27L271.20,393.18L271.69,393.10L272.19,393.01L272.68,392.93L273.17,392.85L273.67,392.78L274.16,392.70L274.66,392.63L275.15,392.56L275.65,392.49L276.14,392.43L276.64,392.36L277.13,392.30L277.63,392.24L278.12,392.18L278.62,392.13L279.11,392.07L279.61,392.02L280.10,391.97L280.60,391.92L281.09,391.87L281.59,391.83L282.09,391.78L282.58,391.74L283.08,391.70L283.57,391.66L284.07,391.63L284.57,391.59L285.06,391.56L285.56,391.52L286.06,391.49L286.55,391.46L287.05,391.43L287.55,391.41L288.04,391.38L288.54,391.36L289.04,391.34L289.53,391.32L290.03,391.30L290.53,391.28L291.03,391.26L291.52,391.24L292.02,391.23L292.52,391.21L293.02,391.20L293.51,391.19L294.01,391.18L294.51,391.17L295.01,391.16L295.50,391.16L296.00,391.15L296.50,391.15L297.00,391.14L297.50,391.14L297.99,391.14L298.49,391.14L298.99,391.14L299.49,391.14L299.99,391.14L300.49,391.14L300.98,391.14L301.48,391.15L301.98,391.15L302.48,391.16L302.98,391.16L303.48,391.17L303.98,391.18L304.47,391.18L304.97,391.19L305.47,391.20L305.97,391.21L306.47,391.22L306.97,391.23L307.47,391.24L307.97,391.25L308.47,391.26L308.96,391.28L309.46,391.29L309.96,391.30L310.46,391.32L310.96,391.33L311.46,391.34L311.96,391.36L312.46,391.37L312.96,391.39L313.46,391.40L313.96,391.42L314.46,391.43L314.96,391.45L315.45,391.46L315.95,391.48L316.45,391.49L316.95,391.51L317.45,391.52L317.95,391.54L318.45,391.55L318.95,391.57L319.45,391.58L319.95,391.60L320.45,391.61L320.95,391.62L321.45,391.64L321.95,391.65L322.45,391.67L322.95,391.68L323.44,391.69L323.94,391.71L324.44,391.72L324.94,391.73L325.44,391.75L325.94,391.76L326.44,391.77L326.94,391.78L327.44,391.80L327.94,391.81L328.44,391.82L328.94,391.83L329.44,391.84L329.94,391.86L330.44,391.87L330.94,391.88L331.44,391.89L331.94,391.90L332.44,391.91L332.94,391.92L333.44,391.93L333.93,391.94L334.43,391.95L334.93,391.96L335.43,391.97L335.93,391.98L336.43,391.99L336.93,392.00L337.43,392.01L337.93,392.02L338.43,392.03L338.93,392.04L339.43,392.05L339.93,392.06L340.43,392.06L340.93,392.07L341.43,392.08L341.93,392.09L342.43,392.10L342.93,392.10L343.43,392.11L343.93,392.12L344.43,392.13L344.93,392.13L345.43,392.14L345.93,392.15L346.42,392.15L346.92,392.16L347.42,392.17L347.92,392.17L348.42,392.18L348.92,392.19L349.42,392.19L349.92,392.20L350.42,392.20L350.92,392.21L351.42,392.21L351.92,392.22L352.42,392.22L352.92,392.23L353.42,392.23L353.92,392.24L354.42,392.24L354.92,392.25L355.42,392.25L355.92,392.26L356.42,392.26L356.92,392.26L357.42,392.27L357.92,392.27L358.42,392.28L358.92,392.28L359.42,392.28L359.92,392.29L360.42,392.29L360.92,392.29L361.42,392.30L361.92,392.30L362.42,392.30L362.92,392.30L363.42,392.31L363.92,392.31L364.42,392.31L364.92,392.31L365.41,392.31L365.91,392.32L366.41,392.32L366.91,392.32L367.41,392.32L367.91,392.32L368.41,392.32L368.91,392.33L369.41,392.33L369.91,392.33L370.41,392.33L370.91,392.33L371.41,392.33L371.91,392.33L372.41,392.33L372.91,392.33L373.41,392.33L373.91,392.33L374.41,392.33L374.91,392.33L375.41,392.33L375.91,392.33L376.41,392.33L376.91,392.33L377.41,392.33L377.91,392.33L378.41,392.33L378.91,392.33L379.41,392.33L379.91,392.32L380.41,392.32L380.91,392.32L381.41,392.32L381.91,392.32L382.41,392.32L382.91,392.32L383.41,392.31L383.91,392.31L384.41,392.31L384.91,392.31L385.41,392.31L385.91,392.30L386.41,392.30L386.91,392.30L387.41,392.30L387.91,392.29L388.41,392.29L388.91,392.29L389.41,392.29L389.91,392.28L390.41,392.28L390.91,392.28L391.41,392.27L391.91,392.27L392.41,392.27L392.91,392.26L393.41,392.26L393.91,392.26L394.41,392.25L394.91,392.25L395.41,392.24L395.91,392.24L396.41,392.24L396.91,392.23L397.41,392.23L397.91,392.22L398.41,392.22L398.91,392.22L399.41,392.21L399.91,392.21L400.41,392.20L400.91,392.20L401.41,392.19L401.91,392.19L402.41,392.18L402.91,392.18L403.41,392.17L403.91,392.17L404.41,392.16L404.91,392.16L405.41,392.15L405.91,392.15L406.41,392.14L406.91,392.13L407.41,392.13L407.91,392.12L408.41,392.12L408.91,392.11L409.41,392.11L409.91,392.10L410.41,392.09L410.91,392.09L411.41,392.08L411.91,392.07L412.41,392.07L412.91,392.06L413.41,392.06L413.91,392.05L414.41,392.04L414.91,392.04L415.41,392.03L415.91,392.02L416.41,392.02L416.91,392.01L417.41,392.00L417.91,392.00L418.41,391.99L418.91,391.98L419.41,391.97L419.91,391.97L420.41,391.96L420.91,391.95L421.41,391.95L421.91,391.94L422.41,391.93L422.91,391.92L423.41,391.92L423.91,391.91L424.41,391.90L424.91,391.89L425.41,391.88L425.91,391.88L426.41,391.87L426.91,391.86L427.41,391.85L427.91,391.85L428.41,391.84L428.91,391.83L429.41,391.82L429.91,391.81L430.41,391.80L430.91,391.80L431.41,391.79L431.91,391.78L432.41,391.77L432.91,391.76L433.41,391.76L433.91,391.75L434.41,391.74L434.91,391.73L435.41,391.72L435.91,391.71L436.41,391.70L436.91,391.70L437.41,391.69L437.91,391.68L438.41,391.67L438.91,391.66L439.41,391.65L439.91,391.64L440.41,391.63L440.91,391.62L441.41,391.62L441.91,391.61L442.41,391.60L442.91,391.59L443.41,391.58L443.91,391.57L444.41,391.56L444.91,391.55L445.41,391.54L445.91,391.53L446.41,391.52L446.91,391.52L447.41,391.51L447.91,391.50L448.41,391.49L448.91,391.48L449.41,391.47L449.91,391.46L450.41,391.45L450.91,391.44L451.41,391.43L451.91,391.42L452.41,391.41L452.91,391.40L453.41,391.39L453.91,391.38L454.41,391.37L454.91,391.36L455.41,391.36L455.91,391.35L456.41,391.34L456.91,391.33L457.41,391.32L457.91,391.31L458.41,391.30L458.91,391.29L459.41,391.28L459.91,391.27L460.41,391.26L460.91,391.25L461.41,391.24L461.91,391.23L462.41,391.22L462.91,391.21L463.41,391.20L463.91,391.19L464.41,391.18L464.91,391.17L465.41,391.16L465.91,391.15L466.41,391.14L466.91,391.13L467.41,391.12L467.91,391.11L468.41,391.10L468.91,391.09L469.41,391.08L469.91,391.07L470.41,391.06L470.91,391.05L471.41,391.04L471.91,391.04L472.41,391.03L472.91,391.02L473.41,391.01L473.91,391.00L474.41,390.99L474.91,390.98L475.41,390.97L475.91,390.96L476.41,390.95L476.91,390.94L477.41,390.93L477.91,390.92L478.41,390.91L478.91,390.90L479.41,390.89L479.91,390.88L480.41,390.87L480.91,390.86L481.41,390.85L481.91,390.84L482.41,390.83L482.91,390.82L483.41,390.81L483.91,390.80L484.41,390.80L484.91,390.79L485.41,390.78L485.91,390.77L486.41,390.76L486.91,390.75L487.41,390.74L487.91,390.73L488.41,390.72L488.91,390.71L489.41,390.70L489.91,390.69L490.41,390.68L490.91,390.67L491.41,390.67L491.91,390.66L492.41,390.65L492.91,390.64L493.41,390.63L493.91,390.62L494.41,390.61L494.91,390.60L495.41,390.59L495.91,390.59L496.41,390.58L496.91,390.57L497.41,390.56L497.91,390.55L498.41,390.54L498.91,390.53L499.41,390.52L499.91,390.52L500.41,390.51L500.91,390.50L501.41,390.49L501.91,390.48L502.41,390.47L502.91,390.46L503.41,390.46L503.91,390.45L504.41,390.44L504.91,390.43L505.41,390.42L505.91,390.42L506.41,390.41L506.91,390.40L507.41,390.39L507.91,390.38L508.41,390.38L508.91,390.37L509.41,390.36L509.91,390.35L510.41,390.34L510.91,390.34L511.41,390.33L511.91,390.32L512.41,390.31L512.91,390.31L513.41,390.30L513.91,390.29L514.41,390.29L514.91,390.28L515.41,390.27L515.91,390.26L516.41,390.26L516.91,390.25L517.41,390.24L517.91,390.24L518.41,390.23L518.91,390.22L519.41,390.22L519.91,390.21L520.41,390.20L520.91,390.20L521.41,390.19L521.91,390.18L522.41,390.18L522.91,390.17L523.40,390.16L523.90,390.16L524.40,390.15L524.90,390.14L525.40,390.14L525.90,390.13L526.40,390.13L526.90,390.12L527.40,390.12L527.90,390.11L528.40,390.10L528.90,390.10L529.40,390.09L529.90,390.09L530.40,390.08L530.90,390.08L531.40,390.07L531.90,390.07L532.40,390.06L532.90,390.06L533.40,390.05L533.90,390.05L534.40,390.04L534.90,390.04L535.40,390.03L535.90,390.03L536.40,390.02L536.90,390.02L537.40,390.02L537.90,390.01L538.40,390.01L538.90,390.00L539.40,390.00L539.90,389.99L540.40,389.99L540.90,389.99L541.39,389.98L541.89,389.98L542.39,389.98L542.89,389.97L543.39,389.97L543.89,389.97L544.39,389.96L544.89,389.96L545.39,389.96L545.89,389.95L546.39,389.95L546.89,389.95L547.39,389.95L547.89,389.94L548.39,389.94L548.89,389.94L549.39,389.94L549.89,389.93L550.39,389.93L550.89,389.93L551.39,389.93L551.89,389.93L552.39,389.92L552.89,389.92L553.39,389.92L553.88,389.92L554.38,389.92L554.88,389.92L555.38,389.92L555.88,389.92L556.38,389.91L556.88,389.91L557.38,389.91L557.88,389.91L558.38,389.91L558.88,389.91L559.38,389.91L559.88,389.91L560.38,389.91L560.88,389.91L561.38,389.91L561.88,389.91L562.38,389.91L565.01,390.33L565.51,390.33L566.01,390.32L566.51,390.32L567.01,390.32L567.51,390.32L568.01,390.31L568.50,390.31L569.00,390.31L569.50,390.31L570.00,390.30L570.50,390.30L571.00,390.30L571.50,390.30L572.00,390.29L572.50,390.29L573.00,390.29L573.50,390.29L574.00,390.28L574.50,390.28L575.00,390.28L575.50,390.28L576.00,390.27L576.50,390.27L577.00,390.27L577.50,390.27L578.00,390.26L578.50,390.26L578.99,390.26L579.49,390.26L579.99,390.25L580.49,390.25L580.99,390.25L581.49,390.25L581.99,390.25L582.49,390.24L582.99,390.24L583.49,390.24L583.99,390.24L584.49,390.23L584.99,390.23L585.49,390.23L585.99,390.23L586.49,390.22L586.99,390.22L587.49,390.22L587.99,390.22L588.49,390.22L588.99,390.21L589.49,390.21L589.99,390.21L590.48,390.21L590.98,390.20L591.48,390.20L591.98,390.20L592.48,390.20L592.98,390.20L593.48,390.19L593.98,390.19L594.48,390.19L594.98,390.19L595.48,390.19L595.98,390.18L596.48,390.18L596.98,390.18L597.48,390.18L597.98,390.18L598.48,390.17L598.98,390.17L599.48,390.17L599.98,390.17L600.48,390.17L600.98,390.16L601.48,390.16L601.98,390.16L602.47,390.16L602.97,390.16L603.47,390.15L603.97,390.15L604.47,390.15L604.97,390.15L605.47,390.15L605.97,390.15L606.47,390.14L606.97,390.14L607.47,390.14L607.97,390.14L608.47,390.14L608.97,390.13L609.47,390.13L609.97,390.13L610.47,390.13L610.97,390.13L611.47,390.13L611.97,390.12L612.47,390.12L612.97,390.12L613.47,390.12L613.97,390.12L614.47,390.12L614.97,390.11L615.46,390.11L615.96,390.11L616.46,390.11L616.96,390.11L617.46,390.11L617.96,390.11L618.46,390.10L618.96,390.10L619.46,390.10L619.96,390.10L620.46,390.10L620.96,390.10L621.46,390.10L621.96,390.09L622.46,390.09L622.96,390.09L623.46,390.09L623.96,390.09L624.46,390.09L624.96,390.09L625.46,390.09L625.96,390.09L626.46,390.08L626.96,390.08L627.46,390.08L627.96,390.08L628.45,390.08L628.95,390.08L629.45,390.08L629.95,390.08L630.45,390.08L630.95,390.07L631.45,390.07L631.95,390.07L632.45,390.07L632.95,390.07L633.45,390.07L633.95,390.07L634.45,390.07L634.95,390.07L635.45,390.07L635.95,390.07L636.45,390.06L636.95,390.06L637.45,390.06L637.95,390.06L638.45,390.06L638.95,390.06L639.45,390.06L639.95,390.06L640.45,390.06L640.95,390.06L641.45,390.06L641.95,390.06L642.44,390.06L642.94,390.06L643.44,390.06L643.94,390.06L644.44,390.05L644.94,390.05L645.44,390.05L645.94,390.05L646.44,390.05L646.94,390.05L647.44,390.05L647.94,390.05L648.44,390.05L648.94,390.05L649.44,390.05L649.94,390.05L650.44,390.05L650.94,390.05L651.44,390.05L651.94,390.05L652.44,390.05L652.94,390.05L653.44,390.05L653.94,390.05L654.44,390.05L654.94,390.05L655.44,390.05L655.94,390.05L656.43,390.05L656.93,390.05L657.43,390.05L657.93,390.05L658.43,390.05L658.93,390.05L659.43,390.05L659.93,390.05L660.43,390.05L660.93,390.05L661.43,390.05L661.93,390.05L662.43,390.06L662.93,390.06L663.43,390.06L663.93,390.06L664.43,390.06L664.93,390.06L665.43,390.06L665.93,390.06L666.43,390.06L666.93,390.06L667.43,390.06L667.93,390.06L668.43,390.06L668.93,390.06L669.43,390.06L669.93,390.06L670.43,390.07L670.92,390.07L671.42,390.07L671.92,390.07L672.42,390.07L672.92,390.07L673.42,390.07L673.92,390.07L674.42,390.07L674.92,390.07L675.42,390.08L675.92,390.08L676.42,390.08L676.92,390.08L677.42,390.08L677.92,390.08L678.42,390.08L678.92,390.09L679.42,390.09L679.92,390.09L680.42,390.09L680.92,390.09L681.42,390.09L681.92,390.09L682.42,390.10L682.92,390.10L683.42,390.10L683.92,390.10L684.42,390.10L684.92,390.10L685.41,390.11L685.91,390.11L686.41,390.11L686.91,390.11L687.41,390.11L687.91,390.12L688.41,390.12L688.91,390.12L689.41,390.12L689.91,390.12L690.41,390.13L690.91,390.13L691.41,390.13L691.91,390.13L692.41,390.13L692.91,390.14L693.41,390.14L693.91,390.14L694.41,390.14L694.91,390.15L695.41,390.15L695.91,390.15L696.41,390.15L696.91,390.16L697.41,390.16L697.91,390.16L698.41,390.16L698.91,390.17L699.40,390.17L699.90,390.17L700.40,390.17L700.90,390.18L701.40,390.18L701.90,390.18L702.40,390.19L702.90,390.19L703.40,390.19L703.90,390.20L704.40,390.20L704.90,390.20L705.40,390.20L705.90,390.21L706.40,390.21L706.90,390.21L707.40,390.22L707.90,390.22L708.40,390.22L708.90,390.23L709.40,390.23L709.90,390.23L710.40,390.24L710.90,390.24L711.40,390.25L711.90,390.25L712.40,390.25L712.89,390.26L713.39,390.26L713.89,390.26L714.39,390.27L714.89,390.27L715.39,390.28L715.89,390.28L716.39,390.28L716.89,390.29L717.39,390.29L717.89,390.30L718.39,390.30L718.89,390.30L719.39,390.31L719.89,390.31L720.39,390.32L720.89,390.32L721.39,390.33L721.89,390.33L722.39,390.33L722.89,390.34L723.39,390.34L723.89,390.35L724.39,390.35L724.89,390.36L725.39,390.36L725.88,390.37L726.38,390.37L726.88,390.38L727.38,390.38L727.88,390.39L728.38,390.39L728.88,390.40L729.38,390.40L729.88,390.41L730.38,390.41L730.88,390.42L731.38,390.42L731.88,390.43L732.38,390.43L732.88,390.44L733.38,390.44L733.88,390.45L734.38,390.45L734.88,390.46L735.38,390.46L735.88,390.47L736.38,390.48L736.88,390.48L737.38,390.49L737.88,390.49L738.37,390.50L738.87,390.50L739.37,390.51L739.87,390.52L740.37,390.52L740.87,390.53L741.37,390.53L741.87,390.54L742.37,390.55L742.87,390.55L743.37,390.56L743.87,390.57L744.37,390.57L744.87,390.58L745.37,390.58L745.87,390.59L746.37,390.60L746.87,390.60L747.37,390.61L747.87,390.62L748.37,390.62L748.87,390.63L749.37,390.64L749.86,390.64L750.36,390.65L750.86,390.66L751.36,390.67L751.86,390.67L752.36,390.68L752.86,390.69L753.36,390.69L753.86,390.70L754.36,390.71L754.86,390.72L755.36,390.72L755.86,390.73L756.36,390.74L756.86,390.75L757.36,390.75L757.86,390.76L758.36,390.77L758.86,390.78L759.36,390.78L759.86,390.79L760.36,390.80L760.86,390.81L761.35,390.82L761.85,390.82L762.35,390.83L762.85,390.84L763.35,390.85L763.85,390.86L764.35,390.86L764.85,390.87L765.35,390.88L765.85,390.89L766.35,390.90L766.85,390.91L767.35,390.91L767.85,390.92L768.35,390.93L768.85,390.94L769.35,390.95L769.85,390.96L770.35,390.97L770.85,390.98L771.35,390.98L771.84,390.99L772.34,391.00L772.84,391.01L773.34,391.02L773.84,391.03L774.34,391.04L774.84,391.05L775.34,391.06L775.84,391.07L776.34,391.08L776.84,391.09L777.34,391.10L777.84,391.11L778.34,391.12L778.84,391.13L779.34,391.14L779.84,391.15L780.34,391.16L780.84,391.17L781.33,391.18L781.83,391.19L782.33,391.20L782.83,391.21L783.33,391.22L783.83,391.23L784.33,391.24L784.83,391.25L785.33,391.26L785.83,391.27L786.33,391.28L786.83,391.29L787.33,391.30L787.83,391.31L788.33,391.32L788.83,391.33L789.33,391.34L789.83,391.35L790.33,391.37L790.82,391.38L791.32,391.39L791.82,391.40L792.32,391.41L792.82,391.42L793.32,391.43L793.82,391.44L794.32,391.46L794.82,391.47L795.32,391.48L795.82,391.49L796.32,391.50L796.82,391.51L797.32,391.53L797.82,391.54L798.32,391.55L798.82,391.56L799.32,391.57L799.81,391.59L800.31,391.60L800.81,391.61L801.31,391.62L801.81,391.63L802.31,391.65L802.81,391.66L803.31,391.67L803.81,391.68L804.31,391.70L804.81,391.71L805.31,391.72L805.81,391.74L806.31,391.75L806.81,391.76L807.31,391.77L807.81,391.79L808.30,391.80L808.80,391.81L809.30,391.83L809.80,391.84L810.30,391.85L810.80,391.87L811.30,391.88L811.80,391.89L812.30,391.91L812.80,391.92L813.30,391.93L813.80,391.95L814.30,391.96L814.80,391.98L815.30,391.99L815.80,392.00L816.29,392.02L816.79,392.03L817.29,392.05L817.79,392.06L818.29,392.08L818.79,392.09L819.29,392.10L819.79,392.12L820.29,392.13L820.79,392.15L821.29,392.16L821.79,392.18L822.29,392.19L822.79,392.21L823.29,392.22L823.78,392.24L824.28,392.25L824.78,392.27L825.28,392.28L825.78,392.30L826.28,392.31L826.78,392.33L827.28,392.34L827.78,392.36L828.28,392.38L828.78,392.39L829.28,392.41L829.78,392.42L830.28,392.44L830.78,392.45L831.27,392.47L831.77,392.49L832.27,392.50L832.77,392.52L833.27,392.54L833.77,392.55L834.27,392.57L834.77,392.58L835.27,392.60L835.77,392.62L836.27,392.63L836.77,392.65L837.27,392.67L837.77,392.68L838.26,392.70L838.76,392.72L839.26,392.74L839.76,392.75L840.26,392.77L840.76,392.79L841.26,392.80L841.76,392.82L842.26,392.84L842.76,392.86L843.26,392.87L843.76,392.89L844.26,392.91L844.75,392.93L845.25,392.95L845.75,392.96L846.25,392.98L846.75,393.00L847.25,393.02L847.75,393.04L848.25,393.05L848.75,393.07L849.25,393.09L849.75,393.11L850.25,393.13L850.75,393.15L851.24,393.17L851.74,393.18L852.24,393.20L852.74,393.22L853.24,393.24L853.74,393.26L854.24,393.28L854.74,393.30L855.24,393.32L855.74,393.34L856.24,393.36L856.74,393.38L857.23,393.40L857.73,393.42L858.23,393.44L858.73,393.46L859.23,393.48L859.73,393.50L860.23,393.52L860.73,393.54L861.23,393.56L861.73,393.58L862.23,393.60L862.73,393.62L863.22,393.64L863.72,393.66L864.22,393.68L864.72,393.70L865.22,393.72L865.72,393.74L866.22,393.76L866.72,393.78L867.22,393.80L867.72,393.82L868.22,393.85L868.72,393.87L869.21,393.89L869.71,393.91L870.21,393.93L870.71,393.95L871.21,393.97L871.71,394.00L872.21,394.02L872.71,394.04L873.21,394.06L873.71,394.08L874.21,394.11L874.70,394.13L875.20,394.15L875.70,394.17L876.20,394.19L876.70,394.22L877.20,394.24L877.70,394.26L878.20,394.28L878.70,394.31L879.20,394.33L879.70,394.35L880.19,394.38L880.69,394.40L881.19,394.42L881.69,394.45L882.19,394.47L882.69,394.49L883.19,394.52L883.69,394.54L884.19,394.56L884.69,394.59L885.18,394.61L885.68,394.63L886.18,394.66L886.68,394.68L887.18,394.71L887.68,394.73L888.18,394.76L888.68,394.78L889.18,394.80L889.68,394.83L890.17,394.85L890.67,394.88L891.17,394.90L891.67,394.93L892.17,394.95L892.67,394.98L893.17,395.00L893.67,395.03L894.17,395.05L894.67,395.08L895.16,395.10L895.66,395.13L896.16,395.15L896.66,395.18L897.16,395.21L897.66,395.23L898.16,395.26L898.66,395.28L899.16,395.31L899.66,395.33L900.15,395.36L900.65,395.39L901.15,395.41L901.65,395.44L902.15,395.47L902.65,395.49L903.15,395.52L903.65,395.55L904.15,395.57L904.64,395.60L905.14,395.63L905.64,395.65L906.14,395.68L906.64,395.71L907.14,395.74L907.64,395.76L908.14,395.79L908.64,395.82L909.13,395.85L909.63,395.87L910.13,395.90L910.63,395.93L911.13,395.96L911.63,395.99L912.13,396.01L912.63,396.04L913.13,396.07L913.62,396.10L914.12,396.13L914.62,396.16L915.12,396.18L915.62,396.21L916.12,396.24L916.62,396.27L917.12,396.30L917.61,396.33L918.11,396.36L918.61,396.39L919.11,396.42L919.61,396.45L920.11,396.48L920.61,396.51L921.11,396.54L921.61,396.57L922.10,396.60L922.60,396.63L923.10,396.66L923.60,396.69L924.10,396.72L924.60,396.75L925.10,396.78L925.60,396.81L926.09,396.84L926.59,396.87L927.09,396.90L927.59,396.93L928.09,396.96L928.59,396.99L929.09,397.02L929.59,397.05L930.08,397.09L930.58,397.12L931.08,397.15L931.58,397.18L932.08,397.21L932.58,397.24L933.08,397.27L933.58,397.31L934.07,397.34L934.57,397.37L935.07,397.40L935.57,397.44L936.07,397.47L936.57,397.50L937.07,397.53L937.57,397.57L938.06,397.60L938.56,397.63L939.06,397.66L939.56,397.70L940.06,397.73L940.56,397.76L941.06,397.80L941.55,397.83L942.05,397.86L942.55,397.90L943.05,397.93L943.55,397.96L944.05,398.00L944.55,398.03L945.05,398.07L945.54,398.10L946.04,398.13L946.54,398.17L947.04,398.20L947.54,398.24L948.04,398.27L948.54,398.31L949.03,398.34L949.53,398.38L950.03,398.41L950.53,398.45L951.03,398.48L951.53,398.52L952.03,398.55L952.52,398.59L953.02,398.62L953.52,398.66L954.02,398.69L954.52,398.73L955.02,398.76L955.52,398.80L956.01,398.84L956.51,398.87L957.01,398.91L957.51,398.95L958.01,398.98L958.51,399.02L959.01,399.05L959.50,399.09L960.00,399.13L960.50,399.17L961.00,399.20L961.50,399.24" stroke="#229fe0" stroke-width="2.3"/>
</g>
<g font-size="14.6" fill="#444">
<text x="159" y="596.00" font-size="15.2" text-anchor="end" textLength="7.25" lengthAdjust="spacingAndGlyphs">0</text>
<text x="159" y="555.83" font-size="15.2" text-anchor="end" textLength="14.50" lengthAdjust="spacingAndGlyphs">20</text>
<text x="159" y="515.66" font-size="15.2" text-anchor="end" textLength="14.50" lengthAdjust="spacingAndGlyphs">40</text>
<text x="159" y="475.50" font-size="15.2" text-anchor="end" textLength="14.50" lengthAdjust="spacingAndGlyphs">60</text>
<text x="159" y="435.33" font-size="15.2" text-anchor="end" textLength="14.50" lengthAdjust="spacingAndGlyphs">80</text>
<text x="159" y="395.17" font-size="15.2" text-anchor="end" textLength="21.75" lengthAdjust="spacingAndGlyphs">100</text>
<text x="159" y="355.00" font-size="15.2" text-anchor="end" textLength="21.75" lengthAdjust="spacingAndGlyphs">120</text>
<text x="175.50" y="611.1" font-size="14.9" text-anchor="middle" textLength="23" lengthAdjust="spacingAndGlyphs">350</text>
<text x="262.83" y="611.1" font-size="14.9" text-anchor="middle" textLength="23" lengthAdjust="spacingAndGlyphs">400</text>
<text x="350.17" y="611.1" font-size="14.9" text-anchor="middle" textLength="23" lengthAdjust="spacingAndGlyphs">450</text>
<text x="437.50" y="611.1" font-size="14.9" text-anchor="middle" textLength="23" lengthAdjust="spacingAndGlyphs">500</text>
<text x="524.83" y="611.1" font-size="14.9" text-anchor="middle" textLength="23" lengthAdjust="spacingAndGlyphs">550</text>
<text x="612.17" y="611.1" font-size="14.9" text-anchor="middle" textLength="23" lengthAdjust="spacingAndGlyphs">600</text>
<text x="699.50" y="611.1" font-size="14.9" text-anchor="middle" textLength="23" lengthAdjust="spacingAndGlyphs">650</text>
<text x="786.83" y="611.1" font-size="14.9" text-anchor="middle" textLength="23" lengthAdjust="spacingAndGlyphs">700</text>
<text x="874.17" y="611.1" font-size="14.9" text-anchor="middle" textLength="23" lengthAdjust="spacingAndGlyphs">750</text>
<text x="961.50" y="611.1" font-size="14.9" text-anchor="middle" textLength="23" lengthAdjust="spacingAndGlyphs">800</text>
</g>
<text x="568.4" y="655.2" font-size="15" font-style="italic" fill="#444" text-anchor="middle" textLength="107" lengthAdjust="spacingAndGlyphs">Wavelength [nm]</text>
<text transform="translate(86.0,468.8) rotate(-90)" x="0" y="0" font-size="15" font-style="italic" fill="#444" text-anchor="middle" textLength="106.5" lengthAdjust="spacingAndGlyphs">Transmission [%]</text>
</svg>
</body></html>
